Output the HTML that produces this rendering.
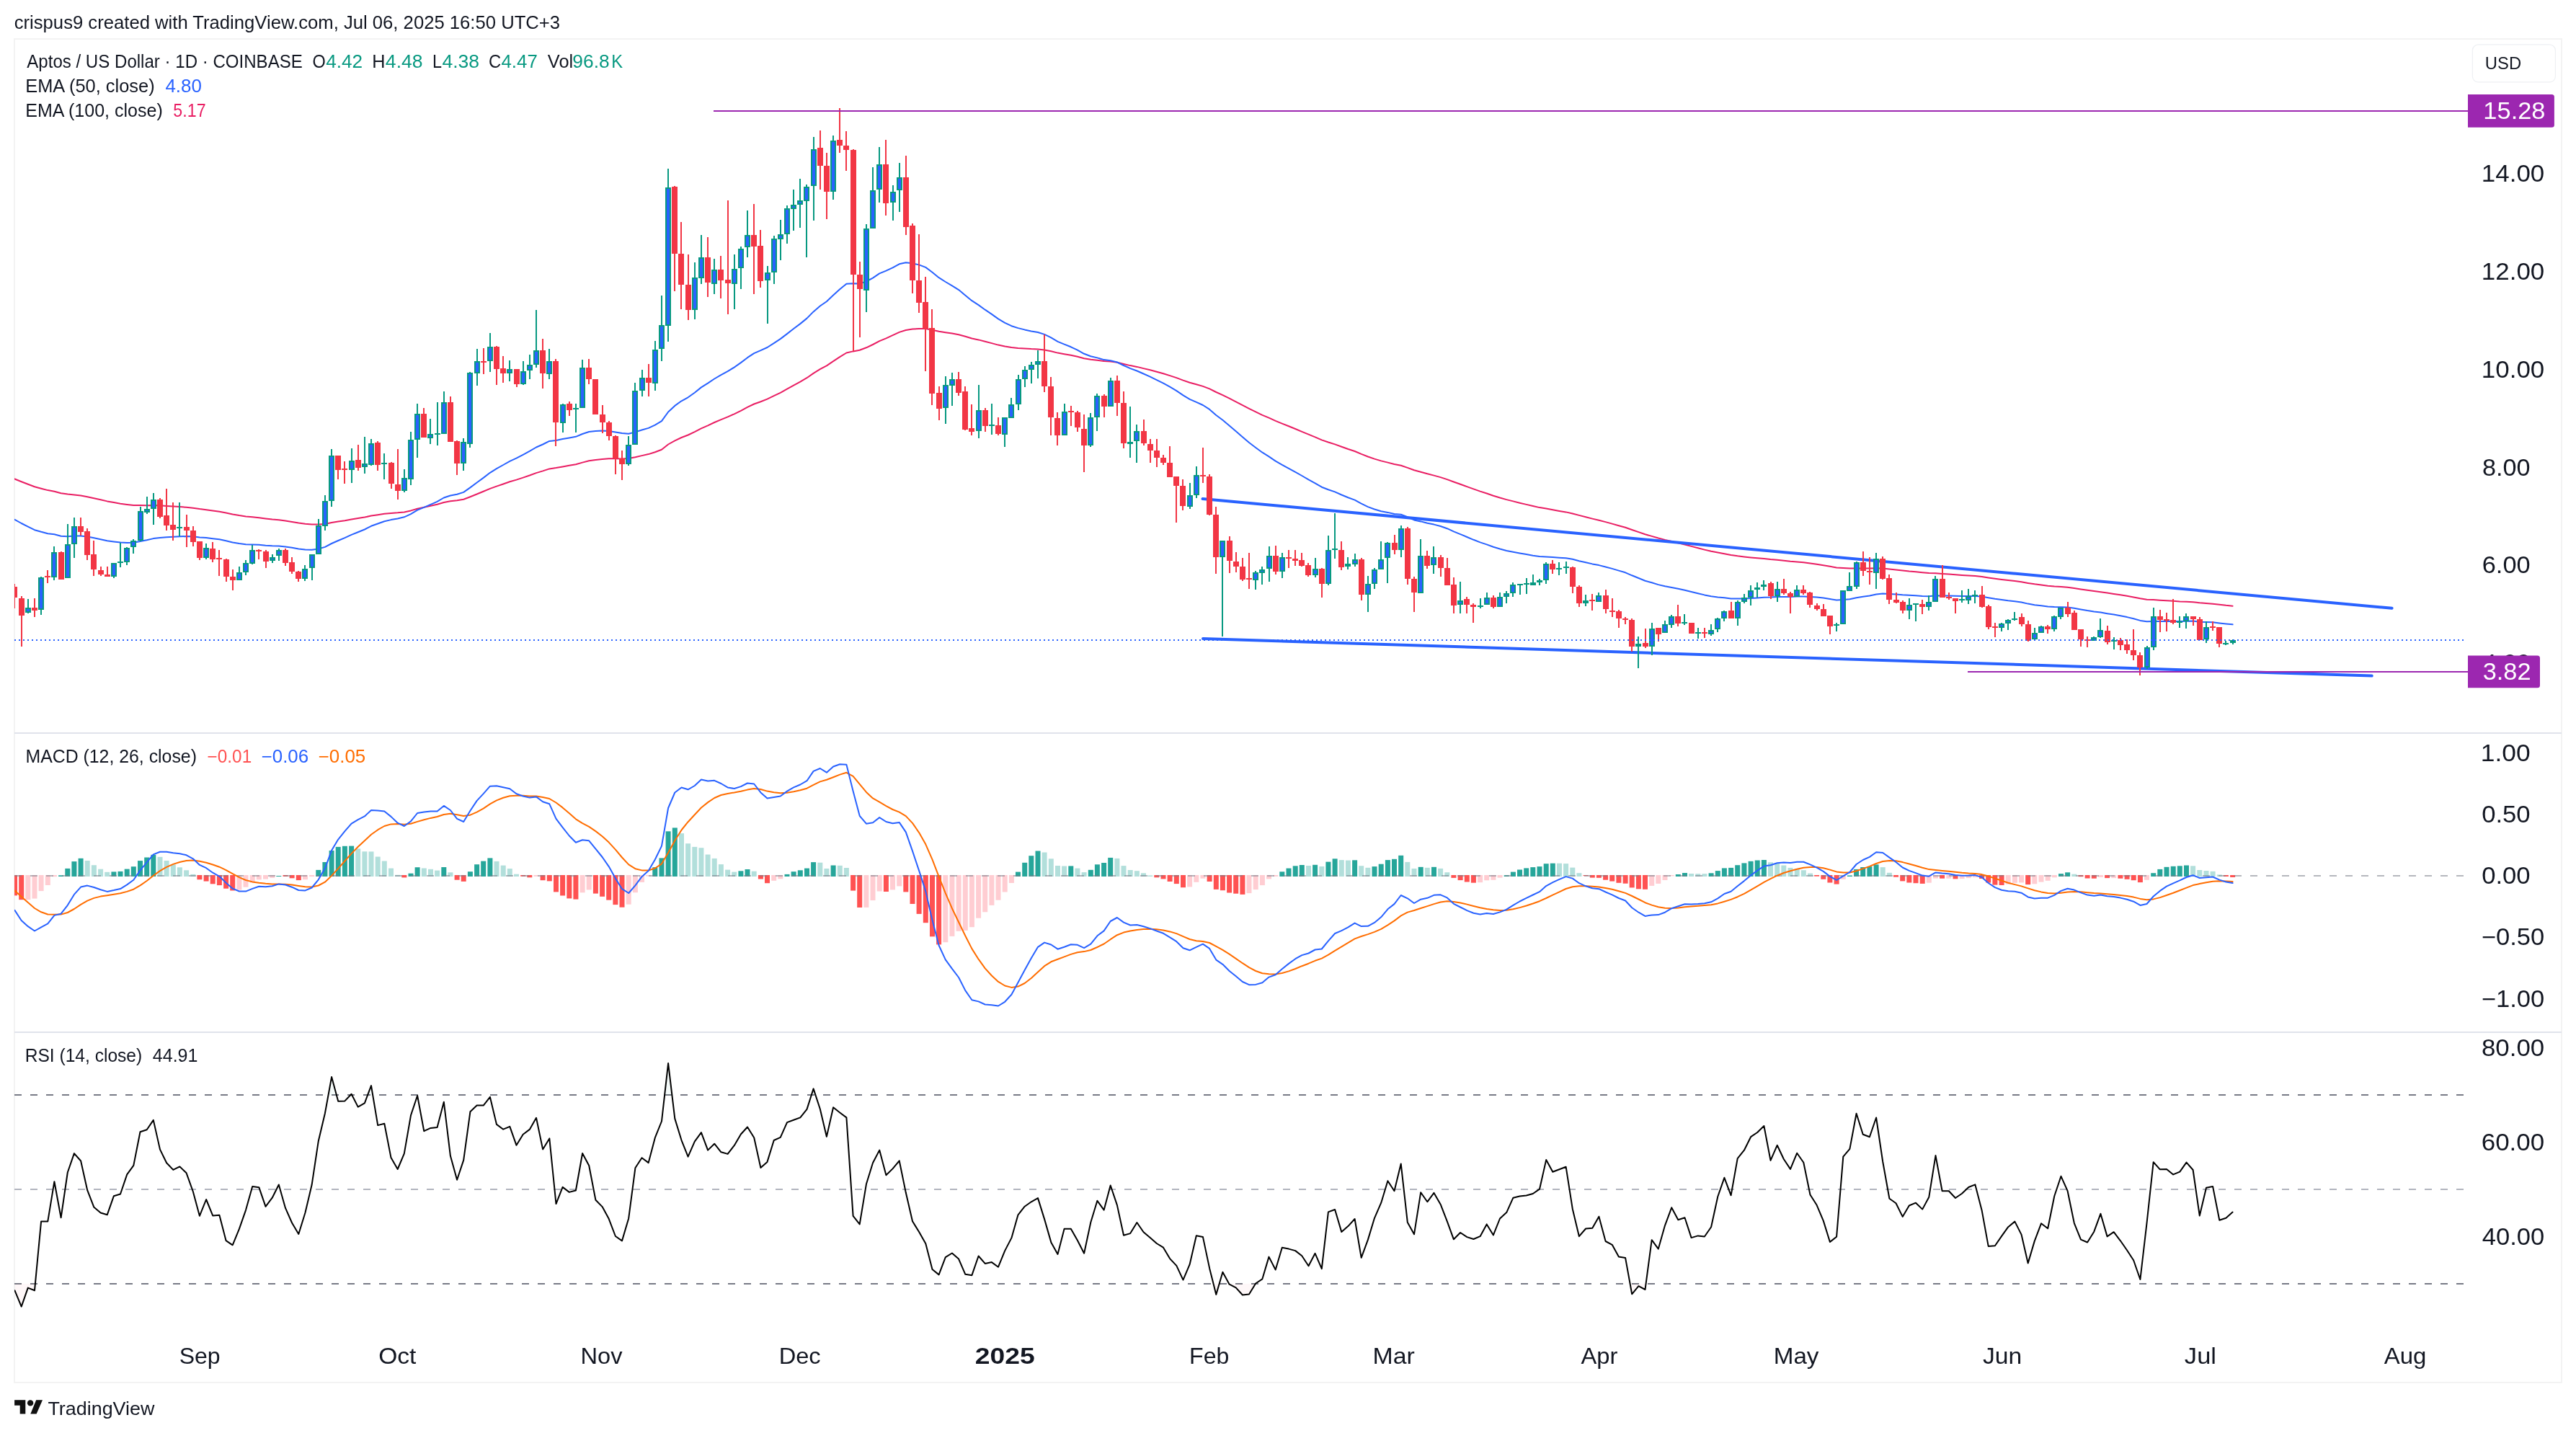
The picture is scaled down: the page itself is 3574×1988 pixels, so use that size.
<!DOCTYPE html>
<html><head><meta charset="utf-8"><style>
html,body{margin:0;padding:0;background:#fff;overflow:hidden;}
svg{display:block;font-family:"Liberation Sans", sans-serif;will-change:transform;}
</style></head><body>
<svg width="3574" height="1988" viewBox="0 0 3574 1988">
<rect x="0" y="0" width="3574" height="1988" fill="#ffffff"/>
<rect x="20" y="54" width="3534" height="1864" fill="none" stroke="#f3f3f3" stroke-width="2"/>
<line x1="20" y1="1017" x2="3554" y2="1017" stroke="#e0e3eb" stroke-width="2"/>
<line x1="20" y1="1432" x2="3554" y2="1432" stroke="#e0e3eb" stroke-width="2"/>
<text x="19.71" y="39.70" font-size="25" fill="#131722" textLength="757.41" lengthAdjust="spacingAndGlyphs">crispus9 created with TradingView.com, Jul 06, 2025 16:50 UTC+3</text>
<clipPath id="cp"><rect x="20" y="55" width="3400" height="960"/></clipPath>
<g clip-path="url(#cp)">
<polyline points="20.5,664.5 29.7,668.2 38.8,671.7 48.0,675.2 57.1,677.7 66.3,680.1 75.4,681.8 84.6,684.2 93.8,685.6 102.9,686.5 112.1,687.5 121.2,689.2 130.4,691.2 139.6,693.3 148.7,695.4 157.9,697.1 167.0,698.7 176.2,699.9 185.3,700.9 194.5,701.1 203.7,701.2 212.8,701.0 222.0,701.3 231.1,701.9 240.3,702.5 249.4,703.1 258.6,703.8 267.8,704.7 276.9,706.1 286.1,707.2 295.2,708.5 304.4,709.8 313.6,711.6 322.7,713.5 331.9,715.1 341.0,716.4 350.2,717.3 359.3,718.2 368.5,719.4 377.7,720.5 386.8,721.3 396.0,722.5 405.1,723.9 414.3,725.5 423.5,726.7 432.6,727.6 441.8,727.6 450.9,727.0 460.1,725.1 469.2,723.6 478.4,722.2 487.6,720.5 496.7,719.1 505.9,717.6 515.0,715.6 524.2,714.2 533.3,712.8 542.5,711.9 551.7,711.3 560.8,710.4 570.0,708.4 579.1,705.7 588.3,703.8 597.5,701.8 606.6,699.8 615.8,697.0 624.9,695.3 634.1,694.3 643.2,692.7 652.4,689.2 661.6,685.5 670.7,681.8 679.9,677.9 689.0,674.6 698.2,671.5 707.3,668.3 716.5,665.6 725.7,662.6 734.8,659.5 744.0,656.1 753.1,653.4 762.3,650.4 771.5,649.1 780.6,647.4 789.8,645.8 798.9,644.2 808.1,641.6 817.2,639.3 826.4,638.0 835.6,637.0 844.7,636.3 853.9,636.3 863.0,636.5 872.2,636.1 881.4,634.2 890.5,632.1 899.7,630.1 908.8,627.2 918.0,623.7 927.1,616.5 936.3,611.3 945.5,607.0 954.6,603.5 963.8,599.1 972.9,594.3 982.1,590.3 991.2,586.0 1000.4,582.1 1009.6,578.4 1018.7,574.3 1027.9,569.8 1037.0,564.9 1046.2,560.5 1055.4,557.2 1064.5,553.6 1073.7,549.2 1082.8,544.8 1092.0,539.7 1101.1,534.6 1110.3,529.6 1119.5,524.2 1128.6,517.9 1137.8,512.2 1146.9,507.3 1156.1,501.2 1165.2,495.2 1174.4,489.5 1183.6,487.4 1192.7,485.7 1201.9,482.3 1211.0,478.0 1220.2,473.1 1229.4,469.3 1238.5,465.2 1247.7,460.9 1256.8,458.0 1266.0,456.6 1275.1,455.9 1284.3,455.9 1293.5,457.7 1302.6,459.8 1311.8,461.3 1320.9,462.6 1330.1,464.2 1339.3,466.8 1348.4,469.5 1357.6,471.4 1366.7,473.8 1375.9,476.1 1385.0,478.6 1394.2,480.5 1403.4,482.1 1412.5,483.0 1421.7,483.6 1430.8,484.1 1440.0,484.4 1449.1,485.4 1458.3,487.3 1467.5,489.6 1476.6,491.2 1485.8,492.8 1494.9,494.8 1504.1,497.2 1513.3,498.8 1522.4,499.8 1531.6,501.1 1540.7,501.6 1549.9,502.8 1559.0,505.0 1568.2,507.1 1577.4,508.9 1586.5,511.1 1595.7,513.3 1604.8,515.7 1614.0,518.2 1623.1,521.1 1632.3,524.1 1641.5,527.6 1650.6,530.8 1659.8,533.3 1668.9,535.9 1678.1,539.4 1687.3,544.0 1696.4,548.1 1705.6,552.7 1714.7,557.3 1723.9,562.2 1733.0,566.9 1742.2,571.4 1751.4,575.8 1760.5,579.6 1769.7,583.9 1778.8,587.6 1788.0,591.3 1797.2,595.0 1806.3,598.8 1815.5,602.7 1824.6,606.4 1833.8,610.4 1842.9,613.5 1852.1,616.4 1861.3,619.8 1870.4,623.0 1879.6,626.0 1888.7,629.9 1897.9,633.5 1907.0,636.6 1916.2,639.4 1925.4,641.6 1934.5,644.0 1943.7,645.8 1952.8,648.9 1962.0,652.3 1971.2,654.7 1980.3,657.3 1989.5,659.6 1998.6,662.1 2007.8,665.1 2016.9,668.5 2026.1,671.8 2035.3,675.1 2044.4,678.4 2053.6,681.6 2062.7,684.5 2071.9,687.7 2081.0,690.5 2090.2,693.1 2099.4,695.4 2108.5,697.7 2117.7,699.9 2126.8,702.0 2136.0,704.1 2145.2,705.6 2154.3,707.3 2163.5,708.9 2172.6,710.4 2181.8,712.5 2190.9,714.9 2200.1,717.3 2209.3,719.6 2218.4,721.7 2227.6,724.1 2236.7,726.6 2245.9,729.2 2255.1,731.8 2264.2,735.0 2273.4,738.1 2282.5,741.3 2291.7,743.9 2300.8,746.5 2310.0,748.9 2319.2,751.0 2328.3,753.3 2337.5,755.5 2346.6,757.9 2355.8,760.3 2364.9,762.6 2374.1,764.8 2383.3,766.6 2392.4,768.3 2401.6,770.0 2410.7,771.3 2419.9,772.4 2429.1,773.4 2438.2,774.2 2447.4,774.9 2456.5,775.9 2465.7,776.7 2474.8,777.7 2484.0,778.7 2493.2,779.4 2502.3,780.3 2511.5,781.5 2520.6,782.7 2529.8,784.2 2538.9,785.8 2548.1,787.4 2557.3,788.1 2566.4,788.6 2575.6,788.4 2584.7,788.5 2593.9,788.6 2603.1,788.3 2612.2,788.6 2621.4,789.5 2630.5,790.4 2639.7,791.5 2648.8,792.5 2658.0,793.3 2667.2,794.3 2676.3,795.1 2685.5,795.3 2694.6,795.9 2703.8,796.6 2713.0,797.3 2722.1,798.0 2731.3,798.6 2740.4,799.1 2749.6,800.0 2758.7,801.4 2767.9,802.7 2777.1,804.0 2786.2,805.1 2795.4,806.1 2804.5,807.3 2813.7,808.9 2822.8,810.3 2832.0,811.5 2841.2,812.7 2850.3,813.5 2859.5,814.1 2868.6,814.8 2877.8,816.0 2887.0,817.4 2896.1,818.8 2905.3,820.1 2914.4,821.2 2923.6,822.6 2932.7,823.9 2941.9,825.3 2951.1,826.8 2960.2,828.4 2969.4,830.3 2978.5,831.7 2987.7,832.1 2996.8,832.7 3006.0,833.2 3015.2,833.8 3024.3,834.4 3033.5,834.8 3042.6,835.3 3051.8,836.3 3061.0,837.0 3070.1,837.7 3079.3,838.7 3088.4,839.8 3097.6,840.7" fill="none" stroke="#e91e63" stroke-width="2" stroke-linejoin="round" stroke-linecap="round"/>
<polyline points="20.5,720.8 29.7,726.0 38.8,730.7 48.0,735.2 57.1,737.8 66.3,740.2 75.4,741.3 84.6,743.7 93.8,744.2 102.9,743.6 112.1,743.4 121.2,744.4 130.4,746.2 139.6,748.2 148.7,750.3 157.9,751.5 167.0,752.6 176.2,752.9 185.3,752.8 194.5,751.0 203.7,749.3 212.8,747.1 222.0,745.9 231.1,745.2 240.3,744.8 249.4,744.3 258.6,744.0 267.8,744.3 276.9,745.4 286.1,746.0 295.2,747.2 304.4,748.3 313.6,750.3 322.7,752.5 331.9,754.1 341.0,755.2 350.2,755.5 359.3,755.8 368.5,756.7 377.7,757.3 386.8,757.6 396.0,758.5 405.1,759.8 414.3,761.5 423.5,762.6 432.6,762.8 441.8,761.5 450.9,758.9 460.1,754.0 469.2,750.0 478.4,746.1 487.6,741.9 496.7,738.2 505.9,734.5 515.0,729.8 524.2,726.5 533.3,723.2 542.5,721.1 551.7,719.5 560.8,717.3 570.0,713.1 579.1,707.7 588.3,703.8 597.5,699.8 606.6,695.9 615.8,690.5 624.9,687.5 634.1,685.7 643.2,682.9 652.4,676.4 661.6,669.5 670.7,662.9 679.9,655.8 689.0,650.2 698.2,645.0 707.3,639.8 716.5,635.6 725.7,630.8 734.8,625.9 744.0,620.5 753.1,616.5 762.3,611.9 771.5,610.9 780.6,609.0 789.8,607.4 798.9,605.8 808.1,602.0 817.2,599.0 826.4,598.1 835.6,597.6 844.7,597.9 853.9,599.4 863.0,601.1 872.2,601.8 881.4,599.4 890.5,596.5 899.7,593.9 908.8,589.7 918.0,584.2 927.1,571.5 936.3,562.9 945.5,556.3 954.6,551.3 963.8,544.8 972.9,537.4 982.1,531.7 991.2,525.5 1000.4,520.2 1009.6,515.2 1018.7,509.6 1027.9,503.1 1037.0,496.2 1046.2,490.2 1055.4,486.2 1064.5,482.0 1073.7,476.1 1082.8,470.1 1092.0,463.1 1101.1,456.0 1110.3,449.1 1119.5,441.6 1128.6,432.4 1137.8,424.5 1146.9,418.2 1156.1,409.5 1165.2,401.3 1174.4,393.7 1183.6,393.2 1192.7,393.5 1201.9,390.5 1211.0,385.6 1220.2,379.4 1229.4,375.6 1238.5,371.3 1247.7,366.3 1256.8,364.3 1266.0,365.3 1275.1,367.4 1284.3,370.9 1293.5,377.7 1302.6,385.2 1311.8,391.0 1320.9,396.3 1330.1,402.1 1339.3,409.7 1348.4,417.2 1357.6,423.1 1366.7,429.7 1375.9,435.9 1385.0,442.4 1394.2,447.8 1403.4,452.2 1412.5,455.1 1421.7,457.4 1430.8,459.4 1440.0,461.0 1449.1,463.9 1458.3,468.4 1467.5,473.8 1476.6,477.6 1485.8,481.3 1494.9,485.6 1504.1,490.8 1513.3,494.3 1522.4,496.4 1531.6,499.1 1540.7,500.2 1549.9,502.5 1559.0,507.0 1568.2,511.1 1577.4,514.5 1586.5,518.5 1595.7,522.7 1604.8,527.1 1614.0,531.6 1623.1,536.7 1632.3,542.1 1641.5,548.3 1650.6,553.8 1659.8,557.9 1668.9,562.0 1678.1,567.9 1687.3,576.0 1696.4,582.8 1705.6,590.5 1714.7,598.2 1723.9,606.2 1733.0,614.0 1742.2,621.0 1751.4,627.7 1760.5,633.3 1769.7,639.6 1778.8,644.8 1788.0,649.9 1797.2,654.9 1806.3,660.0 1815.5,665.4 1824.6,670.3 1833.8,675.7 1842.9,679.2 1852.1,682.4 1861.3,686.5 1870.4,690.2 1879.6,693.6 1888.7,698.7 1897.9,703.1 1907.0,706.5 1916.2,709.2 1925.4,710.9 1934.5,713.0 1943.7,713.8 1952.8,717.3 1962.0,721.4 1971.2,723.4 1980.3,725.8 1989.5,727.6 1998.6,730.0 2007.8,733.2 2016.9,737.4 2026.1,741.1 2035.3,745.0 2044.4,748.8 2053.6,752.4 2062.7,755.4 2071.9,758.8 2081.0,761.5 2090.2,764.0 2099.4,765.8 2108.5,767.5 2117.7,769.1 2126.8,770.7 2136.0,772.0 2145.2,772.4 2154.3,773.1 2163.5,773.7 2172.6,774.2 2181.8,775.8 2190.9,778.2 2200.1,780.3 2209.3,782.4 2218.4,784.1 2227.6,786.5 2236.7,788.9 2245.9,791.6 2255.1,794.3 2264.2,798.3 2273.4,802.0 2282.5,805.7 2291.7,808.3 2300.8,811.1 2310.0,813.2 2319.2,814.9 2328.3,816.8 2337.5,818.7 2346.6,821.0 2355.8,823.2 2364.9,825.4 2374.1,827.3 2383.3,828.5 2392.4,829.2 2401.6,830.4 2410.7,830.5 2419.9,830.4 2429.1,830.0 2438.2,829.4 2447.4,828.7 2456.5,828.6 2465.7,828.1 2474.8,827.9 2484.0,828.0 2493.2,827.6 2502.3,827.4 2511.5,827.9 2520.6,828.5 2529.8,829.6 2538.9,831.1 2548.1,832.5 2557.3,832.0 2566.4,831.2 2575.6,829.2 2584.7,827.8 2593.9,826.5 2603.1,824.5 2612.2,823.6 2621.4,823.9 2630.5,824.4 2639.7,825.3 2648.8,825.8 2658.0,826.3 2667.2,826.9 2676.3,827.2 2685.5,826.3 2694.6,826.4 2703.8,826.5 2713.0,826.8 2722.1,827.0 2731.3,827.0 2740.4,826.9 2749.6,827.5 2758.7,829.2 2767.9,830.8 2777.1,832.1 2786.2,833.3 2795.4,834.2 2804.5,835.5 2813.7,837.6 2822.8,839.2 2832.0,840.3 2841.2,841.6 2850.3,842.1 2859.5,842.2 2868.6,842.5 2877.8,843.8 2887.0,845.4 2896.1,847.1 2905.3,848.6 2914.4,849.6 2923.6,851.2 2932.7,852.6 2941.9,854.3 2951.1,856.1 2960.2,858.2 2969.4,860.9 2978.5,862.3 2987.7,862.1 2996.8,862.0 3006.0,861.9 3015.2,862.0 3024.3,862.0 3033.5,861.7 3042.6,861.6 3051.8,862.7 3061.0,862.9 3070.1,863.2 3079.3,864.4 3088.4,865.4 3097.6,866.3" fill="none" stroke="#2962ff" stroke-width="2" stroke-linejoin="round" stroke-linecap="round"/>
<line x1="1668.5" y1="692" x2="3318.6" y2="843.8" stroke="#2962ff" stroke-width="4" stroke-linecap="round"/>
<line x1="1669" y1="886" x2="3290.7" y2="937.6" stroke="#2962ff" stroke-width="4" stroke-linecap="round"/>
<rect x="19" y="810" width="2" height="34" fill="#f23645"/>
<rect x="16" y="814" width="8" height="15" fill="#f23645"/>
<rect x="29" y="827" width="2" height="70" fill="#f23645"/>
<rect x="26" y="830" width="8" height="24" fill="#f23645"/>
<rect x="38" y="831" width="2" height="20" fill="#089981"/>
<rect x="35" y="843" width="8" height="7" fill="#089981"/>
<rect x="37" y="845" width="4" height="3" fill="#2962ff"/>
<rect x="47" y="830" width="2" height="26" fill="#f23645"/>
<rect x="44" y="843" width="8" height="4" fill="#f23645"/>
<rect x="56" y="800" width="2" height="53" fill="#089981"/>
<rect x="53" y="801" width="8" height="45" fill="#089981"/>
<rect x="55" y="803" width="4" height="41" fill="#2962ff"/>
<rect x="65" y="791" width="2" height="18" fill="#f23645"/>
<rect x="62" y="799" width="8" height="2" fill="#f23645"/>
<rect x="74" y="758" width="2" height="47" fill="#089981"/>
<rect x="71" y="766" width="8" height="35" fill="#089981"/>
<rect x="73" y="768" width="4" height="31" fill="#2962ff"/>
<rect x="84" y="765" width="2" height="39" fill="#f23645"/>
<rect x="81" y="766" width="8" height="38" fill="#f23645"/>
<rect x="93" y="727" width="2" height="75" fill="#089981"/>
<rect x="90" y="755" width="8" height="47" fill="#089981"/>
<rect x="92" y="757" width="4" height="43" fill="#2962ff"/>
<rect x="102" y="718" width="2" height="56" fill="#089981"/>
<rect x="99" y="730" width="8" height="25" fill="#089981"/>
<rect x="101" y="732" width="4" height="21" fill="#2962ff"/>
<rect x="111" y="718" width="2" height="25" fill="#f23645"/>
<rect x="108" y="730" width="8" height="8" fill="#f23645"/>
<rect x="120" y="733" width="2" height="44" fill="#f23645"/>
<rect x="117" y="737" width="8" height="33" fill="#f23645"/>
<rect x="129" y="750" width="2" height="49" fill="#f23645"/>
<rect x="126" y="769" width="8" height="21" fill="#f23645"/>
<rect x="139" y="786" width="2" height="13" fill="#f23645"/>
<rect x="136" y="791" width="8" height="6" fill="#f23645"/>
<rect x="148" y="786" width="2" height="14" fill="#f23645"/>
<rect x="145" y="797" width="8" height="3" fill="#f23645"/>
<rect x="157" y="781" width="2" height="21" fill="#089981"/>
<rect x="154" y="781" width="8" height="19" fill="#089981"/>
<rect x="156" y="783" width="4" height="15" fill="#2962ff"/>
<rect x="166" y="753" width="2" height="34" fill="#089981"/>
<rect x="163" y="779" width="8" height="2" fill="#089981"/>
<rect x="175" y="759" width="2" height="25" fill="#089981"/>
<rect x="172" y="760" width="8" height="20" fill="#089981"/>
<rect x="174" y="762" width="4" height="16" fill="#2962ff"/>
<rect x="184" y="748" width="2" height="20" fill="#089981"/>
<rect x="181" y="750" width="8" height="9" fill="#089981"/>
<rect x="183" y="752" width="4" height="5" fill="#2962ff"/>
<rect x="194" y="703" width="2" height="48" fill="#089981"/>
<rect x="191" y="709" width="8" height="41" fill="#089981"/>
<rect x="193" y="711" width="4" height="37" fill="#2962ff"/>
<rect x="203" y="689" width="2" height="24" fill="#089981"/>
<rect x="200" y="706" width="8" height="5" fill="#089981"/>
<rect x="202" y="708" width="4" height="1" fill="#2962ff"/>
<rect x="212" y="684" width="2" height="44" fill="#089981"/>
<rect x="209" y="693" width="8" height="13" fill="#089981"/>
<rect x="211" y="695" width="4" height="9" fill="#2962ff"/>
<rect x="221" y="691" width="2" height="28" fill="#f23645"/>
<rect x="218" y="693" width="8" height="24" fill="#f23645"/>
<rect x="230" y="678" width="2" height="58" fill="#f23645"/>
<rect x="227" y="715" width="8" height="14" fill="#f23645"/>
<rect x="239" y="697" width="2" height="53" fill="#f23645"/>
<rect x="236" y="728" width="8" height="7" fill="#f23645"/>
<rect x="248" y="697" width="2" height="47" fill="#089981"/>
<rect x="245" y="731" width="8" height="2" fill="#089981"/>
<rect x="258" y="714" width="2" height="45" fill="#f23645"/>
<rect x="255" y="731" width="8" height="5" fill="#f23645"/>
<rect x="267" y="730" width="2" height="28" fill="#f23645"/>
<rect x="264" y="736" width="8" height="16" fill="#f23645"/>
<rect x="276" y="751" width="2" height="26" fill="#f23645"/>
<rect x="273" y="751" width="8" height="23" fill="#f23645"/>
<rect x="285" y="754" width="2" height="22" fill="#089981"/>
<rect x="282" y="760" width="8" height="14" fill="#089981"/>
<rect x="284" y="762" width="4" height="10" fill="#2962ff"/>
<rect x="294" y="752" width="2" height="28" fill="#f23645"/>
<rect x="291" y="761" width="8" height="15" fill="#f23645"/>
<rect x="303" y="763" width="2" height="36" fill="#f23645"/>
<rect x="300" y="774" width="8" height="2" fill="#f23645"/>
<rect x="313" y="775" width="2" height="32" fill="#f23645"/>
<rect x="310" y="776" width="8" height="24" fill="#f23645"/>
<rect x="322" y="790" width="2" height="29" fill="#f23645"/>
<rect x="319" y="800" width="8" height="5" fill="#f23645"/>
<rect x="331" y="786" width="2" height="19" fill="#089981"/>
<rect x="328" y="794" width="8" height="11" fill="#089981"/>
<rect x="330" y="796" width="4" height="7" fill="#2962ff"/>
<rect x="340" y="777" width="2" height="21" fill="#089981"/>
<rect x="337" y="781" width="8" height="13" fill="#089981"/>
<rect x="339" y="783" width="4" height="9" fill="#2962ff"/>
<rect x="349" y="756" width="2" height="27" fill="#089981"/>
<rect x="346" y="763" width="8" height="19" fill="#089981"/>
<rect x="348" y="765" width="4" height="15" fill="#2962ff"/>
<rect x="358" y="762" width="2" height="14" fill="#f23645"/>
<rect x="355" y="763" width="8" height="2" fill="#f23645"/>
<rect x="368" y="763" width="2" height="25" fill="#f23645"/>
<rect x="365" y="765" width="8" height="14" fill="#f23645"/>
<rect x="377" y="769" width="2" height="12" fill="#089981"/>
<rect x="374" y="773" width="8" height="5" fill="#089981"/>
<rect x="376" y="775" width="4" height="1" fill="#2962ff"/>
<rect x="386" y="761" width="2" height="17" fill="#089981"/>
<rect x="383" y="763" width="8" height="8" fill="#089981"/>
<rect x="385" y="765" width="4" height="4" fill="#2962ff"/>
<rect x="395" y="761" width="2" height="24" fill="#f23645"/>
<rect x="392" y="763" width="8" height="18" fill="#f23645"/>
<rect x="404" y="773" width="2" height="23" fill="#f23645"/>
<rect x="401" y="780" width="8" height="13" fill="#f23645"/>
<rect x="413" y="792" width="2" height="15" fill="#f23645"/>
<rect x="410" y="793" width="8" height="10" fill="#f23645"/>
<rect x="422" y="784" width="2" height="22" fill="#089981"/>
<rect x="419" y="789" width="8" height="14" fill="#089981"/>
<rect x="421" y="791" width="4" height="10" fill="#2962ff"/>
<rect x="432" y="769" width="2" height="36" fill="#089981"/>
<rect x="429" y="769" width="8" height="19" fill="#089981"/>
<rect x="431" y="771" width="4" height="15" fill="#2962ff"/>
<rect x="441" y="720" width="2" height="49" fill="#089981"/>
<rect x="438" y="729" width="8" height="40" fill="#089981"/>
<rect x="440" y="731" width="4" height="36" fill="#2962ff"/>
<rect x="450" y="687" width="2" height="49" fill="#089981"/>
<rect x="447" y="695" width="8" height="35" fill="#089981"/>
<rect x="449" y="697" width="4" height="31" fill="#2962ff"/>
<rect x="459" y="623" width="2" height="80" fill="#089981"/>
<rect x="456" y="632" width="8" height="63" fill="#089981"/>
<rect x="458" y="634" width="4" height="59" fill="#2962ff"/>
<rect x="468" y="632" width="2" height="33" fill="#f23645"/>
<rect x="465" y="632" width="8" height="20" fill="#f23645"/>
<rect x="477" y="640" width="2" height="31" fill="#f23645"/>
<rect x="474" y="650" width="8" height="2" fill="#f23645"/>
<rect x="487" y="622" width="2" height="48" fill="#089981"/>
<rect x="484" y="639" width="8" height="13" fill="#089981"/>
<rect x="486" y="641" width="4" height="9" fill="#2962ff"/>
<rect x="496" y="617" width="2" height="36" fill="#f23645"/>
<rect x="493" y="638" width="8" height="11" fill="#f23645"/>
<rect x="505" y="606" width="2" height="51" fill="#089981"/>
<rect x="502" y="643" width="8" height="5" fill="#089981"/>
<rect x="504" y="645" width="4" height="1" fill="#2962ff"/>
<rect x="514" y="609" width="2" height="37" fill="#089981"/>
<rect x="511" y="615" width="8" height="30" fill="#089981"/>
<rect x="513" y="617" width="4" height="26" fill="#2962ff"/>
<rect x="523" y="612" width="2" height="41" fill="#f23645"/>
<rect x="520" y="614" width="8" height="31" fill="#f23645"/>
<rect x="532" y="629" width="2" height="36" fill="#089981"/>
<rect x="529" y="642" width="8" height="2" fill="#089981"/>
<rect x="542" y="641" width="2" height="37" fill="#f23645"/>
<rect x="539" y="642" width="8" height="29" fill="#f23645"/>
<rect x="551" y="623" width="2" height="70" fill="#f23645"/>
<rect x="548" y="672" width="8" height="9" fill="#f23645"/>
<rect x="560" y="651" width="2" height="32" fill="#089981"/>
<rect x="557" y="663" width="8" height="18" fill="#089981"/>
<rect x="559" y="665" width="4" height="14" fill="#2962ff"/>
<rect x="569" y="599" width="2" height="74" fill="#089981"/>
<rect x="566" y="610" width="8" height="55" fill="#089981"/>
<rect x="568" y="612" width="4" height="51" fill="#2962ff"/>
<rect x="578" y="560" width="2" height="75" fill="#089981"/>
<rect x="575" y="574" width="8" height="36" fill="#089981"/>
<rect x="577" y="576" width="4" height="32" fill="#2962ff"/>
<rect x="587" y="566" width="2" height="41" fill="#f23645"/>
<rect x="584" y="574" width="8" height="33" fill="#f23645"/>
<rect x="596" y="581" width="2" height="35" fill="#089981"/>
<rect x="593" y="602" width="8" height="6" fill="#089981"/>
<rect x="595" y="604" width="4" height="2" fill="#2962ff"/>
<rect x="606" y="558" width="2" height="60" fill="#089981"/>
<rect x="603" y="601" width="8" height="2" fill="#089981"/>
<rect x="615" y="543" width="2" height="59" fill="#089981"/>
<rect x="612" y="558" width="8" height="44" fill="#089981"/>
<rect x="614" y="560" width="4" height="40" fill="#2962ff"/>
<rect x="624" y="550" width="2" height="63" fill="#f23645"/>
<rect x="621" y="558" width="8" height="55" fill="#f23645"/>
<rect x="633" y="611" width="2" height="48" fill="#f23645"/>
<rect x="630" y="612" width="8" height="31" fill="#f23645"/>
<rect x="642" y="608" width="2" height="45" fill="#089981"/>
<rect x="639" y="613" width="8" height="30" fill="#089981"/>
<rect x="641" y="615" width="4" height="26" fill="#2962ff"/>
<rect x="651" y="516" width="2" height="105" fill="#089981"/>
<rect x="648" y="517" width="8" height="99" fill="#089981"/>
<rect x="650" y="519" width="4" height="95" fill="#2962ff"/>
<rect x="661" y="484" width="2" height="51" fill="#089981"/>
<rect x="658" y="501" width="8" height="17" fill="#089981"/>
<rect x="660" y="503" width="4" height="13" fill="#2962ff"/>
<rect x="670" y="483" width="2" height="36" fill="#f23645"/>
<rect x="667" y="501" width="8" height="2" fill="#f23645"/>
<rect x="679" y="462" width="2" height="54" fill="#089981"/>
<rect x="676" y="481" width="8" height="20" fill="#089981"/>
<rect x="678" y="483" width="4" height="16" fill="#2962ff"/>
<rect x="688" y="480" width="2" height="54" fill="#f23645"/>
<rect x="685" y="481" width="8" height="31" fill="#f23645"/>
<rect x="697" y="494" width="2" height="37" fill="#f23645"/>
<rect x="694" y="511" width="8" height="7" fill="#f23645"/>
<rect x="706" y="500" width="2" height="29" fill="#089981"/>
<rect x="703" y="512" width="8" height="6" fill="#089981"/>
<rect x="705" y="514" width="4" height="2" fill="#2962ff"/>
<rect x="716" y="512" width="2" height="25" fill="#f23645"/>
<rect x="713" y="512" width="8" height="21" fill="#f23645"/>
<rect x="725" y="501" width="2" height="33" fill="#089981"/>
<rect x="722" y="515" width="8" height="18" fill="#089981"/>
<rect x="724" y="517" width="4" height="14" fill="#2962ff"/>
<rect x="734" y="492" width="2" height="34" fill="#089981"/>
<rect x="731" y="506" width="8" height="8" fill="#089981"/>
<rect x="733" y="508" width="4" height="4" fill="#2962ff"/>
<rect x="743" y="430" width="2" height="80" fill="#089981"/>
<rect x="740" y="486" width="8" height="20" fill="#089981"/>
<rect x="742" y="488" width="4" height="16" fill="#2962ff"/>
<rect x="752" y="470" width="2" height="69" fill="#f23645"/>
<rect x="749" y="486" width="8" height="32" fill="#f23645"/>
<rect x="761" y="484" width="2" height="42" fill="#089981"/>
<rect x="758" y="501" width="8" height="18" fill="#089981"/>
<rect x="760" y="503" width="4" height="14" fill="#2962ff"/>
<rect x="770" y="498" width="2" height="121" fill="#f23645"/>
<rect x="767" y="501" width="8" height="85" fill="#f23645"/>
<rect x="780" y="560" width="2" height="40" fill="#089981"/>
<rect x="777" y="561" width="8" height="26" fill="#089981"/>
<rect x="779" y="563" width="4" height="22" fill="#2962ff"/>
<rect x="789" y="557" width="2" height="20" fill="#f23645"/>
<rect x="786" y="560" width="8" height="9" fill="#f23645"/>
<rect x="798" y="560" width="2" height="40" fill="#089981"/>
<rect x="795" y="566" width="8" height="2" fill="#089981"/>
<rect x="807" y="499" width="2" height="67" fill="#089981"/>
<rect x="804" y="510" width="8" height="56" fill="#089981"/>
<rect x="806" y="512" width="4" height="52" fill="#2962ff"/>
<rect x="816" y="498" width="2" height="35" fill="#f23645"/>
<rect x="813" y="510" width="8" height="16" fill="#f23645"/>
<rect x="825" y="526" width="2" height="49" fill="#f23645"/>
<rect x="822" y="526" width="8" height="49" fill="#f23645"/>
<rect x="835" y="562" width="2" height="39" fill="#f23645"/>
<rect x="832" y="575" width="8" height="11" fill="#f23645"/>
<rect x="844" y="584" width="2" height="27" fill="#f23645"/>
<rect x="841" y="586" width="8" height="19" fill="#f23645"/>
<rect x="853" y="604" width="2" height="54" fill="#f23645"/>
<rect x="850" y="605" width="8" height="31" fill="#f23645"/>
<rect x="862" y="625" width="2" height="41" fill="#f23645"/>
<rect x="859" y="636" width="8" height="8" fill="#f23645"/>
<rect x="871" y="605" width="2" height="41" fill="#089981"/>
<rect x="868" y="617" width="8" height="27" fill="#089981"/>
<rect x="870" y="619" width="4" height="23" fill="#2962ff"/>
<rect x="880" y="531" width="2" height="86" fill="#089981"/>
<rect x="877" y="542" width="8" height="75" fill="#089981"/>
<rect x="879" y="544" width="4" height="71" fill="#2962ff"/>
<rect x="890" y="513" width="2" height="37" fill="#089981"/>
<rect x="887" y="524" width="8" height="18" fill="#089981"/>
<rect x="889" y="526" width="4" height="14" fill="#2962ff"/>
<rect x="899" y="505" width="2" height="45" fill="#f23645"/>
<rect x="896" y="524" width="8" height="7" fill="#f23645"/>
<rect x="908" y="473" width="2" height="69" fill="#089981"/>
<rect x="905" y="485" width="8" height="47" fill="#089981"/>
<rect x="907" y="487" width="4" height="43" fill="#2962ff"/>
<rect x="917" y="410" width="2" height="91" fill="#089981"/>
<rect x="914" y="451" width="8" height="33" fill="#089981"/>
<rect x="916" y="453" width="4" height="29" fill="#2962ff"/>
<rect x="926" y="234" width="2" height="240" fill="#089981"/>
<rect x="923" y="260" width="8" height="192" fill="#089981"/>
<rect x="925" y="262" width="4" height="188" fill="#2962ff"/>
<rect x="935" y="258" width="2" height="146" fill="#f23645"/>
<rect x="932" y="259" width="8" height="93" fill="#f23645"/>
<rect x="944" y="308" width="2" height="121" fill="#f23645"/>
<rect x="941" y="352" width="8" height="43" fill="#f23645"/>
<rect x="954" y="353" width="2" height="91" fill="#f23645"/>
<rect x="951" y="395" width="8" height="35" fill="#f23645"/>
<rect x="963" y="364" width="2" height="79" fill="#089981"/>
<rect x="960" y="385" width="8" height="45" fill="#089981"/>
<rect x="962" y="387" width="4" height="41" fill="#2962ff"/>
<rect x="972" y="326" width="2" height="68" fill="#089981"/>
<rect x="969" y="357" width="8" height="29" fill="#089981"/>
<rect x="971" y="359" width="4" height="25" fill="#2962ff"/>
<rect x="981" y="329" width="2" height="83" fill="#f23645"/>
<rect x="978" y="357" width="8" height="35" fill="#f23645"/>
<rect x="990" y="359" width="2" height="49" fill="#089981"/>
<rect x="987" y="374" width="8" height="20" fill="#089981"/>
<rect x="989" y="376" width="4" height="16" fill="#2962ff"/>
<rect x="999" y="355" width="2" height="59" fill="#f23645"/>
<rect x="996" y="374" width="8" height="15" fill="#f23645"/>
<rect x="1009" y="278" width="2" height="158" fill="#f23645"/>
<rect x="1006" y="388" width="8" height="5" fill="#f23645"/>
<rect x="1018" y="353" width="2" height="76" fill="#089981"/>
<rect x="1015" y="373" width="8" height="21" fill="#089981"/>
<rect x="1017" y="375" width="4" height="17" fill="#2962ff"/>
<rect x="1027" y="342" width="2" height="59" fill="#089981"/>
<rect x="1024" y="345" width="8" height="27" fill="#089981"/>
<rect x="1026" y="347" width="4" height="23" fill="#2962ff"/>
<rect x="1036" y="292" width="2" height="65" fill="#089981"/>
<rect x="1033" y="326" width="8" height="17" fill="#089981"/>
<rect x="1035" y="328" width="4" height="13" fill="#2962ff"/>
<rect x="1045" y="283" width="2" height="125" fill="#f23645"/>
<rect x="1042" y="326" width="8" height="16" fill="#f23645"/>
<rect x="1054" y="319" width="2" height="80" fill="#f23645"/>
<rect x="1051" y="341" width="8" height="49" fill="#f23645"/>
<rect x="1064" y="369" width="2" height="80" fill="#089981"/>
<rect x="1061" y="378" width="8" height="11" fill="#089981"/>
<rect x="1063" y="380" width="4" height="7" fill="#2962ff"/>
<rect x="1073" y="327" width="2" height="67" fill="#089981"/>
<rect x="1070" y="331" width="8" height="47" fill="#089981"/>
<rect x="1072" y="333" width="4" height="43" fill="#2962ff"/>
<rect x="1082" y="305" width="2" height="56" fill="#089981"/>
<rect x="1079" y="325" width="8" height="7" fill="#089981"/>
<rect x="1081" y="327" width="4" height="3" fill="#2962ff"/>
<rect x="1091" y="285" width="2" height="53" fill="#089981"/>
<rect x="1088" y="289" width="8" height="36" fill="#089981"/>
<rect x="1090" y="291" width="4" height="32" fill="#2962ff"/>
<rect x="1100" y="263" width="2" height="57" fill="#089981"/>
<rect x="1097" y="284" width="8" height="6" fill="#089981"/>
<rect x="1099" y="286" width="4" height="2" fill="#2962ff"/>
<rect x="1109" y="248" width="2" height="68" fill="#089981"/>
<rect x="1106" y="278" width="8" height="6" fill="#089981"/>
<rect x="1108" y="280" width="4" height="2" fill="#2962ff"/>
<rect x="1118" y="256" width="2" height="101" fill="#089981"/>
<rect x="1115" y="259" width="8" height="20" fill="#089981"/>
<rect x="1117" y="261" width="4" height="16" fill="#2962ff"/>
<rect x="1128" y="190" width="2" height="116" fill="#089981"/>
<rect x="1125" y="207" width="8" height="51" fill="#089981"/>
<rect x="1127" y="209" width="4" height="47" fill="#2962ff"/>
<rect x="1137" y="181" width="2" height="82" fill="#f23645"/>
<rect x="1134" y="205" width="8" height="25" fill="#f23645"/>
<rect x="1146" y="212" width="2" height="92" fill="#f23645"/>
<rect x="1143" y="230" width="8" height="36" fill="#f23645"/>
<rect x="1155" y="188" width="2" height="89" fill="#089981"/>
<rect x="1152" y="195" width="8" height="71" fill="#089981"/>
<rect x="1154" y="197" width="4" height="67" fill="#2962ff"/>
<rect x="1164" y="150" width="2" height="62" fill="#f23645"/>
<rect x="1161" y="194" width="8" height="8" fill="#f23645"/>
<rect x="1173" y="182" width="2" height="55" fill="#f23645"/>
<rect x="1170" y="202" width="8" height="6" fill="#f23645"/>
<rect x="1183" y="207" width="2" height="280" fill="#f23645"/>
<rect x="1180" y="208" width="8" height="173" fill="#f23645"/>
<rect x="1192" y="363" width="2" height="105" fill="#f23645"/>
<rect x="1189" y="381" width="8" height="20" fill="#f23645"/>
<rect x="1201" y="311" width="2" height="122" fill="#089981"/>
<rect x="1198" y="317" width="8" height="86" fill="#089981"/>
<rect x="1200" y="319" width="4" height="82" fill="#2962ff"/>
<rect x="1210" y="232" width="2" height="85" fill="#089981"/>
<rect x="1207" y="264" width="8" height="53" fill="#089981"/>
<rect x="1209" y="266" width="4" height="49" fill="#2962ff"/>
<rect x="1219" y="204" width="2" height="77" fill="#089981"/>
<rect x="1216" y="228" width="8" height="35" fill="#089981"/>
<rect x="1218" y="230" width="4" height="31" fill="#2962ff"/>
<rect x="1228" y="194" width="2" height="105" fill="#f23645"/>
<rect x="1225" y="228" width="8" height="54" fill="#f23645"/>
<rect x="1238" y="257" width="2" height="49" fill="#089981"/>
<rect x="1235" y="266" width="8" height="15" fill="#089981"/>
<rect x="1237" y="268" width="4" height="11" fill="#2962ff"/>
<rect x="1247" y="226" width="2" height="68" fill="#089981"/>
<rect x="1244" y="246" width="8" height="18" fill="#089981"/>
<rect x="1246" y="248" width="4" height="14" fill="#2962ff"/>
<rect x="1256" y="216" width="2" height="110" fill="#f23645"/>
<rect x="1253" y="246" width="8" height="69" fill="#f23645"/>
<rect x="1265" y="310" width="2" height="97" fill="#f23645"/>
<rect x="1262" y="313" width="8" height="76" fill="#f23645"/>
<rect x="1274" y="325" width="2" height="109" fill="#f23645"/>
<rect x="1271" y="389" width="8" height="31" fill="#f23645"/>
<rect x="1283" y="384" width="2" height="131" fill="#f23645"/>
<rect x="1280" y="419" width="8" height="37" fill="#f23645"/>
<rect x="1292" y="429" width="2" height="133" fill="#f23645"/>
<rect x="1289" y="455" width="8" height="91" fill="#f23645"/>
<rect x="1302" y="536" width="2" height="47" fill="#f23645"/>
<rect x="1299" y="545" width="8" height="22" fill="#f23645"/>
<rect x="1311" y="522" width="2" height="66" fill="#089981"/>
<rect x="1308" y="534" width="8" height="32" fill="#089981"/>
<rect x="1310" y="536" width="4" height="28" fill="#2962ff"/>
<rect x="1320" y="517" width="2" height="46" fill="#089981"/>
<rect x="1317" y="526" width="8" height="9" fill="#089981"/>
<rect x="1319" y="528" width="4" height="5" fill="#2962ff"/>
<rect x="1329" y="516" width="2" height="33" fill="#f23645"/>
<rect x="1326" y="526" width="8" height="19" fill="#f23645"/>
<rect x="1338" y="536" width="2" height="61" fill="#f23645"/>
<rect x="1335" y="543" width="8" height="53" fill="#f23645"/>
<rect x="1347" y="561" width="2" height="43" fill="#f23645"/>
<rect x="1344" y="594" width="8" height="5" fill="#f23645"/>
<rect x="1357" y="534" width="2" height="74" fill="#089981"/>
<rect x="1354" y="569" width="8" height="29" fill="#089981"/>
<rect x="1356" y="571" width="4" height="25" fill="#2962ff"/>
<rect x="1366" y="566" width="2" height="33" fill="#f23645"/>
<rect x="1363" y="569" width="8" height="22" fill="#f23645"/>
<rect x="1375" y="560" width="2" height="43" fill="#089981"/>
<rect x="1372" y="589" width="8" height="2" fill="#089981"/>
<rect x="1384" y="579" width="2" height="25" fill="#f23645"/>
<rect x="1381" y="590" width="8" height="12" fill="#f23645"/>
<rect x="1393" y="579" width="2" height="41" fill="#089981"/>
<rect x="1390" y="579" width="8" height="24" fill="#089981"/>
<rect x="1392" y="581" width="4" height="20" fill="#2962ff"/>
<rect x="1402" y="552" width="2" height="28" fill="#089981"/>
<rect x="1399" y="561" width="8" height="19" fill="#089981"/>
<rect x="1401" y="563" width="4" height="15" fill="#2962ff"/>
<rect x="1412" y="520" width="2" height="49" fill="#089981"/>
<rect x="1409" y="526" width="8" height="35" fill="#089981"/>
<rect x="1411" y="528" width="4" height="31" fill="#2962ff"/>
<rect x="1421" y="508" width="2" height="29" fill="#089981"/>
<rect x="1418" y="513" width="8" height="13" fill="#089981"/>
<rect x="1420" y="515" width="4" height="9" fill="#2962ff"/>
<rect x="1430" y="502" width="2" height="30" fill="#089981"/>
<rect x="1427" y="506" width="8" height="7" fill="#089981"/>
<rect x="1429" y="508" width="4" height="3" fill="#2962ff"/>
<rect x="1439" y="486" width="2" height="39" fill="#089981"/>
<rect x="1436" y="501" width="8" height="5" fill="#089981"/>
<rect x="1438" y="503" width="4" height="1" fill="#2962ff"/>
<rect x="1448" y="464" width="2" height="80" fill="#f23645"/>
<rect x="1445" y="501" width="8" height="35" fill="#f23645"/>
<rect x="1457" y="523" width="2" height="81" fill="#f23645"/>
<rect x="1454" y="536" width="8" height="43" fill="#f23645"/>
<rect x="1466" y="572" width="2" height="46" fill="#f23645"/>
<rect x="1463" y="580" width="8" height="24" fill="#f23645"/>
<rect x="1476" y="560" width="2" height="44" fill="#089981"/>
<rect x="1473" y="571" width="8" height="33" fill="#089981"/>
<rect x="1475" y="573" width="4" height="29" fill="#2962ff"/>
<rect x="1485" y="563" width="2" height="28" fill="#f23645"/>
<rect x="1482" y="570" width="8" height="2" fill="#f23645"/>
<rect x="1494" y="570" width="2" height="29" fill="#f23645"/>
<rect x="1491" y="572" width="8" height="21" fill="#f23645"/>
<rect x="1503" y="575" width="2" height="80" fill="#f23645"/>
<rect x="1500" y="595" width="8" height="23" fill="#f23645"/>
<rect x="1512" y="573" width="2" height="47" fill="#089981"/>
<rect x="1509" y="579" width="8" height="39" fill="#089981"/>
<rect x="1511" y="581" width="4" height="35" fill="#2962ff"/>
<rect x="1521" y="546" width="2" height="52" fill="#089981"/>
<rect x="1518" y="549" width="8" height="30" fill="#089981"/>
<rect x="1520" y="551" width="4" height="26" fill="#2962ff"/>
<rect x="1531" y="547" width="2" height="32" fill="#f23645"/>
<rect x="1528" y="549" width="8" height="15" fill="#f23645"/>
<rect x="1540" y="524" width="2" height="40" fill="#089981"/>
<rect x="1537" y="528" width="8" height="36" fill="#089981"/>
<rect x="1539" y="530" width="4" height="32" fill="#2962ff"/>
<rect x="1549" y="521" width="2" height="56" fill="#f23645"/>
<rect x="1546" y="528" width="8" height="31" fill="#f23645"/>
<rect x="1558" y="543" width="2" height="79" fill="#f23645"/>
<rect x="1555" y="559" width="8" height="56" fill="#f23645"/>
<rect x="1567" y="564" width="2" height="71" fill="#089981"/>
<rect x="1564" y="613" width="8" height="3" fill="#089981"/>
<rect x="1576" y="589" width="2" height="53" fill="#089981"/>
<rect x="1573" y="598" width="8" height="14" fill="#089981"/>
<rect x="1575" y="600" width="4" height="10" fill="#2962ff"/>
<rect x="1586" y="582" width="2" height="36" fill="#f23645"/>
<rect x="1583" y="598" width="8" height="17" fill="#f23645"/>
<rect x="1595" y="609" width="2" height="33" fill="#f23645"/>
<rect x="1592" y="616" width="8" height="9" fill="#f23645"/>
<rect x="1604" y="609" width="2" height="39" fill="#f23645"/>
<rect x="1601" y="625" width="8" height="10" fill="#f23645"/>
<rect x="1613" y="631" width="2" height="14" fill="#f23645"/>
<rect x="1610" y="635" width="8" height="7" fill="#f23645"/>
<rect x="1622" y="619" width="2" height="43" fill="#f23645"/>
<rect x="1619" y="642" width="8" height="20" fill="#f23645"/>
<rect x="1631" y="661" width="2" height="64" fill="#f23645"/>
<rect x="1628" y="661" width="8" height="13" fill="#f23645"/>
<rect x="1640" y="665" width="2" height="43" fill="#f23645"/>
<rect x="1637" y="674" width="8" height="28" fill="#f23645"/>
<rect x="1650" y="670" width="2" height="36" fill="#089981"/>
<rect x="1647" y="687" width="8" height="16" fill="#089981"/>
<rect x="1649" y="689" width="4" height="12" fill="#2962ff"/>
<rect x="1659" y="647" width="2" height="44" fill="#089981"/>
<rect x="1656" y="659" width="8" height="28" fill="#089981"/>
<rect x="1658" y="661" width="4" height="24" fill="#2962ff"/>
<rect x="1668" y="621" width="2" height="49" fill="#f23645"/>
<rect x="1665" y="659" width="8" height="2" fill="#f23645"/>
<rect x="1677" y="658" width="2" height="57" fill="#f23645"/>
<rect x="1674" y="661" width="8" height="53" fill="#f23645"/>
<rect x="1686" y="703" width="2" height="93" fill="#f23645"/>
<rect x="1683" y="714" width="8" height="59" fill="#f23645"/>
<rect x="1695" y="750" width="2" height="133" fill="#089981"/>
<rect x="1692" y="750" width="8" height="23" fill="#089981"/>
<rect x="1694" y="752" width="4" height="19" fill="#2962ff"/>
<rect x="1705" y="744" width="2" height="51" fill="#f23645"/>
<rect x="1702" y="750" width="8" height="28" fill="#f23645"/>
<rect x="1714" y="766" width="2" height="28" fill="#f23645"/>
<rect x="1711" y="779" width="8" height="7" fill="#f23645"/>
<rect x="1723" y="774" width="2" height="32" fill="#f23645"/>
<rect x="1720" y="786" width="8" height="18" fill="#f23645"/>
<rect x="1732" y="767" width="2" height="50" fill="#f23645"/>
<rect x="1729" y="802" width="8" height="2" fill="#f23645"/>
<rect x="1741" y="792" width="2" height="26" fill="#089981"/>
<rect x="1738" y="794" width="8" height="11" fill="#089981"/>
<rect x="1740" y="796" width="4" height="7" fill="#2962ff"/>
<rect x="1750" y="786" width="2" height="25" fill="#089981"/>
<rect x="1747" y="790" width="8" height="5" fill="#089981"/>
<rect x="1749" y="792" width="4" height="1" fill="#2962ff"/>
<rect x="1760" y="758" width="2" height="49" fill="#089981"/>
<rect x="1757" y="771" width="8" height="18" fill="#089981"/>
<rect x="1759" y="773" width="4" height="14" fill="#2962ff"/>
<rect x="1769" y="757" width="2" height="40" fill="#f23645"/>
<rect x="1766" y="771" width="8" height="22" fill="#f23645"/>
<rect x="1778" y="767" width="2" height="35" fill="#089981"/>
<rect x="1775" y="773" width="8" height="20" fill="#089981"/>
<rect x="1777" y="775" width="4" height="16" fill="#2962ff"/>
<rect x="1787" y="763" width="2" height="25" fill="#f23645"/>
<rect x="1784" y="773" width="8" height="2" fill="#f23645"/>
<rect x="1796" y="763" width="2" height="22" fill="#f23645"/>
<rect x="1793" y="775" width="8" height="3" fill="#f23645"/>
<rect x="1805" y="767" width="2" height="19" fill="#f23645"/>
<rect x="1802" y="777" width="8" height="8" fill="#f23645"/>
<rect x="1814" y="781" width="2" height="19" fill="#f23645"/>
<rect x="1811" y="784" width="8" height="14" fill="#f23645"/>
<rect x="1824" y="774" width="2" height="27" fill="#089981"/>
<rect x="1821" y="789" width="8" height="9" fill="#089981"/>
<rect x="1823" y="791" width="4" height="5" fill="#2962ff"/>
<rect x="1833" y="788" width="2" height="41" fill="#f23645"/>
<rect x="1830" y="789" width="8" height="21" fill="#f23645"/>
<rect x="1842" y="743" width="2" height="69" fill="#089981"/>
<rect x="1839" y="763" width="8" height="47" fill="#089981"/>
<rect x="1841" y="765" width="4" height="43" fill="#2962ff"/>
<rect x="1851" y="712" width="2" height="63" fill="#089981"/>
<rect x="1848" y="761" width="8" height="2" fill="#089981"/>
<rect x="1860" y="751" width="2" height="40" fill="#f23645"/>
<rect x="1857" y="763" width="8" height="24" fill="#f23645"/>
<rect x="1869" y="773" width="2" height="17" fill="#089981"/>
<rect x="1866" y="782" width="8" height="4" fill="#089981"/>
<rect x="1879" y="768" width="2" height="18" fill="#089981"/>
<rect x="1876" y="776" width="8" height="7" fill="#089981"/>
<rect x="1878" y="778" width="4" height="3" fill="#2962ff"/>
<rect x="1888" y="774" width="2" height="59" fill="#f23645"/>
<rect x="1885" y="776" width="8" height="49" fill="#f23645"/>
<rect x="1897" y="799" width="2" height="50" fill="#089981"/>
<rect x="1894" y="810" width="8" height="15" fill="#089981"/>
<rect x="1896" y="812" width="4" height="11" fill="#2962ff"/>
<rect x="1906" y="788" width="2" height="29" fill="#089981"/>
<rect x="1903" y="790" width="8" height="20" fill="#089981"/>
<rect x="1905" y="792" width="4" height="16" fill="#2962ff"/>
<rect x="1915" y="751" width="2" height="39" fill="#089981"/>
<rect x="1912" y="776" width="8" height="14" fill="#089981"/>
<rect x="1914" y="778" width="4" height="10" fill="#2962ff"/>
<rect x="1924" y="752" width="2" height="57" fill="#089981"/>
<rect x="1921" y="753" width="8" height="21" fill="#089981"/>
<rect x="1923" y="755" width="4" height="17" fill="#2962ff"/>
<rect x="1934" y="742" width="2" height="27" fill="#f23645"/>
<rect x="1931" y="753" width="8" height="10" fill="#f23645"/>
<rect x="1943" y="729" width="2" height="44" fill="#089981"/>
<rect x="1940" y="733" width="8" height="30" fill="#089981"/>
<rect x="1942" y="735" width="4" height="26" fill="#2962ff"/>
<rect x="1952" y="731" width="2" height="80" fill="#f23645"/>
<rect x="1949" y="733" width="8" height="70" fill="#f23645"/>
<rect x="1961" y="800" width="2" height="49" fill="#f23645"/>
<rect x="1958" y="803" width="8" height="19" fill="#f23645"/>
<rect x="1970" y="748" width="2" height="75" fill="#089981"/>
<rect x="1967" y="771" width="8" height="52" fill="#089981"/>
<rect x="1969" y="773" width="4" height="48" fill="#2962ff"/>
<rect x="1979" y="764" width="2" height="25" fill="#f23645"/>
<rect x="1976" y="771" width="8" height="14" fill="#f23645"/>
<rect x="1988" y="758" width="2" height="38" fill="#089981"/>
<rect x="1985" y="773" width="8" height="11" fill="#089981"/>
<rect x="1987" y="775" width="4" height="7" fill="#2962ff"/>
<rect x="1998" y="770" width="2" height="30" fill="#f23645"/>
<rect x="1995" y="773" width="8" height="15" fill="#f23645"/>
<rect x="2007" y="774" width="2" height="38" fill="#f23645"/>
<rect x="2004" y="788" width="8" height="24" fill="#f23645"/>
<rect x="2016" y="801" width="2" height="50" fill="#f23645"/>
<rect x="2013" y="811" width="8" height="29" fill="#f23645"/>
<rect x="2025" y="807" width="2" height="44" fill="#089981"/>
<rect x="2022" y="833" width="8" height="6" fill="#089981"/>
<rect x="2024" y="835" width="4" height="2" fill="#2962ff"/>
<rect x="2034" y="828" width="2" height="23" fill="#f23645"/>
<rect x="2031" y="831" width="8" height="8" fill="#f23645"/>
<rect x="2043" y="837" width="2" height="27" fill="#f23645"/>
<rect x="2040" y="839" width="8" height="3" fill="#f23645"/>
<rect x="2053" y="830" width="2" height="14" fill="#089981"/>
<rect x="2050" y="840" width="8" height="2" fill="#089981"/>
<rect x="2062" y="822" width="2" height="17" fill="#089981"/>
<rect x="2059" y="829" width="8" height="10" fill="#089981"/>
<rect x="2061" y="831" width="4" height="6" fill="#2962ff"/>
<rect x="2071" y="826" width="2" height="18" fill="#f23645"/>
<rect x="2068" y="829" width="8" height="13" fill="#f23645"/>
<rect x="2080" y="822" width="2" height="20" fill="#089981"/>
<rect x="2077" y="828" width="8" height="14" fill="#089981"/>
<rect x="2079" y="830" width="4" height="10" fill="#2962ff"/>
<rect x="2089" y="820" width="2" height="17" fill="#089981"/>
<rect x="2086" y="823" width="8" height="5" fill="#089981"/>
<rect x="2088" y="825" width="4" height="1" fill="#2962ff"/>
<rect x="2098" y="808" width="2" height="20" fill="#089981"/>
<rect x="2095" y="811" width="8" height="12" fill="#089981"/>
<rect x="2097" y="813" width="4" height="8" fill="#2962ff"/>
<rect x="2108" y="810" width="2" height="15" fill="#089981"/>
<rect x="2105" y="810" width="8" height="2" fill="#089981"/>
<rect x="2117" y="802" width="2" height="22" fill="#089981"/>
<rect x="2114" y="809" width="8" height="2" fill="#089981"/>
<rect x="2126" y="797" width="2" height="15" fill="#089981"/>
<rect x="2123" y="808" width="8" height="4" fill="#089981"/>
<rect x="2135" y="803" width="2" height="9" fill="#089981"/>
<rect x="2132" y="805" width="8" height="3" fill="#089981"/>
<rect x="2144" y="780" width="2" height="30" fill="#089981"/>
<rect x="2141" y="782" width="8" height="23" fill="#089981"/>
<rect x="2143" y="784" width="4" height="19" fill="#2962ff"/>
<rect x="2153" y="777" width="2" height="19" fill="#f23645"/>
<rect x="2150" y="782" width="8" height="8" fill="#f23645"/>
<rect x="2162" y="780" width="2" height="18" fill="#089981"/>
<rect x="2159" y="788" width="8" height="2" fill="#089981"/>
<rect x="2172" y="779" width="2" height="17" fill="#089981"/>
<rect x="2169" y="786" width="8" height="2" fill="#089981"/>
<rect x="2181" y="786" width="2" height="37" fill="#f23645"/>
<rect x="2178" y="787" width="8" height="27" fill="#f23645"/>
<rect x="2190" y="812" width="2" height="30" fill="#f23645"/>
<rect x="2187" y="814" width="8" height="23" fill="#f23645"/>
<rect x="2199" y="825" width="2" height="16" fill="#089981"/>
<rect x="2196" y="833" width="8" height="4" fill="#089981"/>
<rect x="2208" y="824" width="2" height="23" fill="#f23645"/>
<rect x="2205" y="832" width="8" height="2" fill="#f23645"/>
<rect x="2217" y="822" width="2" height="13" fill="#089981"/>
<rect x="2214" y="826" width="8" height="9" fill="#089981"/>
<rect x="2216" y="828" width="4" height="5" fill="#2962ff"/>
<rect x="2227" y="818" width="2" height="33" fill="#f23645"/>
<rect x="2224" y="826" width="8" height="19" fill="#f23645"/>
<rect x="2236" y="830" width="2" height="26" fill="#f23645"/>
<rect x="2233" y="847" width="8" height="2" fill="#f23645"/>
<rect x="2245" y="846" width="2" height="25" fill="#f23645"/>
<rect x="2242" y="848" width="8" height="10" fill="#f23645"/>
<rect x="2254" y="856" width="2" height="10" fill="#f23645"/>
<rect x="2251" y="858" width="8" height="2" fill="#f23645"/>
<rect x="2263" y="858" width="2" height="46" fill="#f23645"/>
<rect x="2260" y="860" width="8" height="37" fill="#f23645"/>
<rect x="2272" y="883" width="2" height="44" fill="#089981"/>
<rect x="2269" y="893" width="8" height="4" fill="#089981"/>
<rect x="2282" y="872" width="2" height="27" fill="#f23645"/>
<rect x="2279" y="892" width="8" height="5" fill="#f23645"/>
<rect x="2291" y="864" width="2" height="45" fill="#089981"/>
<rect x="2288" y="872" width="8" height="25" fill="#089981"/>
<rect x="2290" y="874" width="4" height="21" fill="#2962ff"/>
<rect x="2300" y="871" width="2" height="19" fill="#f23645"/>
<rect x="2297" y="871" width="8" height="9" fill="#f23645"/>
<rect x="2309" y="861" width="2" height="17" fill="#089981"/>
<rect x="2306" y="866" width="8" height="12" fill="#089981"/>
<rect x="2308" y="868" width="4" height="8" fill="#2962ff"/>
<rect x="2318" y="853" width="2" height="18" fill="#089981"/>
<rect x="2315" y="855" width="8" height="12" fill="#089981"/>
<rect x="2317" y="857" width="4" height="8" fill="#2962ff"/>
<rect x="2327" y="839" width="2" height="30" fill="#f23645"/>
<rect x="2324" y="855" width="8" height="10" fill="#f23645"/>
<rect x="2336" y="852" width="2" height="15" fill="#089981"/>
<rect x="2333" y="863" width="8" height="2" fill="#089981"/>
<rect x="2346" y="864" width="2" height="15" fill="#f23645"/>
<rect x="2343" y="864" width="8" height="15" fill="#f23645"/>
<rect x="2355" y="871" width="2" height="15" fill="#089981"/>
<rect x="2352" y="877" width="8" height="2" fill="#089981"/>
<rect x="2364" y="871" width="2" height="14" fill="#f23645"/>
<rect x="2361" y="877" width="8" height="2" fill="#f23645"/>
<rect x="2373" y="866" width="2" height="16" fill="#089981"/>
<rect x="2370" y="874" width="8" height="6" fill="#089981"/>
<rect x="2372" y="876" width="4" height="2" fill="#2962ff"/>
<rect x="2382" y="857" width="2" height="20" fill="#089981"/>
<rect x="2379" y="858" width="8" height="15" fill="#089981"/>
<rect x="2381" y="860" width="4" height="11" fill="#2962ff"/>
<rect x="2391" y="847" width="2" height="15" fill="#089981"/>
<rect x="2388" y="848" width="8" height="10" fill="#089981"/>
<rect x="2390" y="850" width="4" height="6" fill="#2962ff"/>
<rect x="2401" y="835" width="2" height="23" fill="#f23645"/>
<rect x="2398" y="847" width="8" height="11" fill="#f23645"/>
<rect x="2410" y="833" width="2" height="35" fill="#089981"/>
<rect x="2407" y="835" width="8" height="23" fill="#089981"/>
<rect x="2409" y="837" width="4" height="19" fill="#2962ff"/>
<rect x="2419" y="824" width="2" height="13" fill="#089981"/>
<rect x="2416" y="829" width="8" height="6" fill="#089981"/>
<rect x="2418" y="831" width="4" height="2" fill="#2962ff"/>
<rect x="2428" y="812" width="2" height="28" fill="#089981"/>
<rect x="2425" y="819" width="8" height="10" fill="#089981"/>
<rect x="2427" y="821" width="4" height="6" fill="#2962ff"/>
<rect x="2437" y="808" width="2" height="21" fill="#089981"/>
<rect x="2434" y="815" width="8" height="3" fill="#089981"/>
<rect x="2446" y="805" width="2" height="14" fill="#089981"/>
<rect x="2443" y="811" width="8" height="3" fill="#089981"/>
<rect x="2456" y="807" width="2" height="24" fill="#f23645"/>
<rect x="2453" y="809" width="8" height="18" fill="#f23645"/>
<rect x="2465" y="807" width="2" height="28" fill="#089981"/>
<rect x="2462" y="817" width="8" height="10" fill="#089981"/>
<rect x="2464" y="819" width="4" height="6" fill="#2962ff"/>
<rect x="2474" y="803" width="2" height="22" fill="#f23645"/>
<rect x="2471" y="817" width="8" height="6" fill="#f23645"/>
<rect x="2483" y="821" width="2" height="30" fill="#f23645"/>
<rect x="2480" y="823" width="8" height="5" fill="#f23645"/>
<rect x="2492" y="812" width="2" height="16" fill="#089981"/>
<rect x="2489" y="818" width="8" height="10" fill="#089981"/>
<rect x="2491" y="820" width="4" height="6" fill="#2962ff"/>
<rect x="2501" y="812" width="2" height="13" fill="#f23645"/>
<rect x="2498" y="818" width="8" height="5" fill="#f23645"/>
<rect x="2510" y="821" width="2" height="22" fill="#f23645"/>
<rect x="2507" y="822" width="8" height="17" fill="#f23645"/>
<rect x="2520" y="837" width="2" height="10" fill="#f23645"/>
<rect x="2517" y="840" width="8" height="5" fill="#f23645"/>
<rect x="2529" y="838" width="2" height="17" fill="#f23645"/>
<rect x="2526" y="845" width="8" height="10" fill="#f23645"/>
<rect x="2538" y="854" width="2" height="26" fill="#f23645"/>
<rect x="2535" y="854" width="8" height="15" fill="#f23645"/>
<rect x="2547" y="864" width="2" height="12" fill="#089981"/>
<rect x="2544" y="866" width="8" height="2" fill="#089981"/>
<rect x="2556" y="819" width="2" height="47" fill="#089981"/>
<rect x="2553" y="819" width="8" height="47" fill="#089981"/>
<rect x="2555" y="821" width="4" height="43" fill="#2962ff"/>
<rect x="2565" y="794" width="2" height="26" fill="#089981"/>
<rect x="2562" y="813" width="8" height="7" fill="#089981"/>
<rect x="2564" y="815" width="4" height="3" fill="#2962ff"/>
<rect x="2575" y="779" width="2" height="38" fill="#089981"/>
<rect x="2572" y="780" width="8" height="34" fill="#089981"/>
<rect x="2574" y="782" width="4" height="30" fill="#2962ff"/>
<rect x="2584" y="765" width="2" height="34" fill="#f23645"/>
<rect x="2581" y="780" width="8" height="12" fill="#f23645"/>
<rect x="2593" y="773" width="2" height="38" fill="#f23645"/>
<rect x="2590" y="792" width="8" height="2" fill="#f23645"/>
<rect x="2602" y="767" width="2" height="50" fill="#089981"/>
<rect x="2599" y="775" width="8" height="20" fill="#089981"/>
<rect x="2601" y="777" width="4" height="16" fill="#2962ff"/>
<rect x="2611" y="772" width="2" height="32" fill="#f23645"/>
<rect x="2608" y="775" width="8" height="28" fill="#f23645"/>
<rect x="2620" y="797" width="2" height="41" fill="#f23645"/>
<rect x="2617" y="802" width="8" height="30" fill="#f23645"/>
<rect x="2630" y="822" width="2" height="15" fill="#f23645"/>
<rect x="2627" y="832" width="8" height="4" fill="#f23645"/>
<rect x="2639" y="833" width="2" height="18" fill="#f23645"/>
<rect x="2636" y="835" width="8" height="12" fill="#f23645"/>
<rect x="2648" y="830" width="2" height="29" fill="#089981"/>
<rect x="2645" y="839" width="8" height="8" fill="#089981"/>
<rect x="2647" y="841" width="4" height="4" fill="#2962ff"/>
<rect x="2657" y="837" width="2" height="25" fill="#089981"/>
<rect x="2654" y="837" width="8" height="2" fill="#089981"/>
<rect x="2666" y="832" width="2" height="20" fill="#f23645"/>
<rect x="2663" y="838" width="8" height="4" fill="#f23645"/>
<rect x="2675" y="826" width="2" height="21" fill="#089981"/>
<rect x="2672" y="835" width="8" height="7" fill="#089981"/>
<rect x="2674" y="837" width="4" height="3" fill="#2962ff"/>
<rect x="2684" y="799" width="2" height="36" fill="#089981"/>
<rect x="2681" y="803" width="8" height="32" fill="#089981"/>
<rect x="2683" y="805" width="4" height="28" fill="#2962ff"/>
<rect x="2694" y="784" width="2" height="45" fill="#f23645"/>
<rect x="2691" y="803" width="8" height="26" fill="#f23645"/>
<rect x="2703" y="822" width="2" height="10" fill="#f23645"/>
<rect x="2700" y="828" width="8" height="2" fill="#f23645"/>
<rect x="2712" y="830" width="2" height="21" fill="#f23645"/>
<rect x="2709" y="830" width="8" height="4" fill="#f23645"/>
<rect x="2721" y="819" width="2" height="17" fill="#089981"/>
<rect x="2718" y="831" width="8" height="2" fill="#089981"/>
<rect x="2730" y="817" width="2" height="21" fill="#089981"/>
<rect x="2727" y="827" width="8" height="6" fill="#089981"/>
<rect x="2729" y="829" width="4" height="2" fill="#2962ff"/>
<rect x="2739" y="819" width="2" height="18" fill="#089981"/>
<rect x="2736" y="825" width="8" height="2" fill="#089981"/>
<rect x="2749" y="813" width="2" height="30" fill="#f23645"/>
<rect x="2746" y="825" width="8" height="17" fill="#f23645"/>
<rect x="2758" y="839" width="2" height="34" fill="#f23645"/>
<rect x="2755" y="841" width="8" height="29" fill="#f23645"/>
<rect x="2767" y="864" width="2" height="20" fill="#f23645"/>
<rect x="2764" y="869" width="8" height="2" fill="#f23645"/>
<rect x="2776" y="864" width="2" height="12" fill="#089981"/>
<rect x="2773" y="865" width="8" height="6" fill="#089981"/>
<rect x="2775" y="867" width="4" height="2" fill="#2962ff"/>
<rect x="2785" y="859" width="2" height="15" fill="#089981"/>
<rect x="2782" y="860" width="8" height="5" fill="#089981"/>
<rect x="2784" y="862" width="4" height="1" fill="#2962ff"/>
<rect x="2794" y="849" width="2" height="12" fill="#089981"/>
<rect x="2791" y="858" width="8" height="2" fill="#089981"/>
<rect x="2804" y="851" width="2" height="18" fill="#f23645"/>
<rect x="2801" y="856" width="8" height="10" fill="#f23645"/>
<rect x="2813" y="861" width="2" height="29" fill="#f23645"/>
<rect x="2810" y="866" width="8" height="23" fill="#f23645"/>
<rect x="2822" y="871" width="2" height="17" fill="#089981"/>
<rect x="2819" y="878" width="8" height="9" fill="#089981"/>
<rect x="2821" y="880" width="4" height="5" fill="#2962ff"/>
<rect x="2831" y="868" width="2" height="10" fill="#089981"/>
<rect x="2828" y="869" width="8" height="9" fill="#089981"/>
<rect x="2830" y="871" width="4" height="5" fill="#2962ff"/>
<rect x="2840" y="867" width="2" height="12" fill="#f23645"/>
<rect x="2837" y="869" width="8" height="4" fill="#f23645"/>
<rect x="2849" y="854" width="2" height="22" fill="#089981"/>
<rect x="2846" y="855" width="8" height="18" fill="#089981"/>
<rect x="2848" y="857" width="4" height="14" fill="#2962ff"/>
<rect x="2858" y="843" width="2" height="16" fill="#089981"/>
<rect x="2855" y="843" width="8" height="13" fill="#089981"/>
<rect x="2857" y="845" width="4" height="9" fill="#2962ff"/>
<rect x="2868" y="835" width="2" height="21" fill="#f23645"/>
<rect x="2865" y="843" width="8" height="9" fill="#f23645"/>
<rect x="2877" y="847" width="2" height="27" fill="#f23645"/>
<rect x="2874" y="850" width="8" height="24" fill="#f23645"/>
<rect x="2886" y="873" width="2" height="24" fill="#f23645"/>
<rect x="2883" y="873" width="8" height="14" fill="#f23645"/>
<rect x="2895" y="883" width="2" height="15" fill="#f23645"/>
<rect x="2892" y="887" width="8" height="2" fill="#f23645"/>
<rect x="2904" y="883" width="2" height="6" fill="#089981"/>
<rect x="2901" y="884" width="8" height="5" fill="#089981"/>
<rect x="2903" y="886" width="4" height="1" fill="#2962ff"/>
<rect x="2913" y="858" width="2" height="27" fill="#089981"/>
<rect x="2910" y="874" width="8" height="10" fill="#089981"/>
<rect x="2912" y="876" width="4" height="6" fill="#2962ff"/>
<rect x="2923" y="868" width="2" height="26" fill="#f23645"/>
<rect x="2920" y="875" width="8" height="16" fill="#f23645"/>
<rect x="2932" y="884" width="2" height="17" fill="#089981"/>
<rect x="2929" y="888" width="8" height="2" fill="#089981"/>
<rect x="2941" y="885" width="2" height="17" fill="#f23645"/>
<rect x="2938" y="888" width="8" height="7" fill="#f23645"/>
<rect x="2950" y="887" width="2" height="20" fill="#f23645"/>
<rect x="2947" y="894" width="8" height="8" fill="#f23645"/>
<rect x="2959" y="873" width="2" height="43" fill="#f23645"/>
<rect x="2956" y="902" width="8" height="7" fill="#f23645"/>
<rect x="2968" y="905" width="2" height="32" fill="#f23645"/>
<rect x="2965" y="909" width="8" height="17" fill="#f23645"/>
<rect x="2978" y="896" width="2" height="32" fill="#089981"/>
<rect x="2975" y="898" width="8" height="28" fill="#089981"/>
<rect x="2977" y="900" width="4" height="24" fill="#2962ff"/>
<rect x="2987" y="843" width="2" height="59" fill="#089981"/>
<rect x="2984" y="855" width="8" height="43" fill="#089981"/>
<rect x="2986" y="857" width="4" height="39" fill="#2962ff"/>
<rect x="2996" y="846" width="2" height="31" fill="#f23645"/>
<rect x="2993" y="855" width="8" height="5" fill="#f23645"/>
<rect x="3005" y="850" width="2" height="26" fill="#f23645"/>
<rect x="3002" y="859" width="8" height="2" fill="#f23645"/>
<rect x="3014" y="831" width="2" height="35" fill="#f23645"/>
<rect x="3011" y="860" width="8" height="4" fill="#f23645"/>
<rect x="3023" y="855" width="2" height="16" fill="#089981"/>
<rect x="3020" y="862" width="8" height="2" fill="#089981"/>
<rect x="3032" y="851" width="2" height="21" fill="#089981"/>
<rect x="3029" y="855" width="8" height="7" fill="#089981"/>
<rect x="3031" y="857" width="4" height="3" fill="#2962ff"/>
<rect x="3042" y="855" width="2" height="13" fill="#f23645"/>
<rect x="3039" y="855" width="8" height="4" fill="#f23645"/>
<rect x="3051" y="856" width="2" height="32" fill="#f23645"/>
<rect x="3048" y="859" width="8" height="29" fill="#f23645"/>
<rect x="3060" y="862" width="2" height="30" fill="#089981"/>
<rect x="3057" y="870" width="8" height="17" fill="#089981"/>
<rect x="3059" y="872" width="4" height="13" fill="#2962ff"/>
<rect x="3069" y="862" width="2" height="13" fill="#f23645"/>
<rect x="3066" y="869" width="8" height="2" fill="#f23645"/>
<rect x="3078" y="870" width="2" height="28" fill="#f23645"/>
<rect x="3075" y="870" width="8" height="23" fill="#f23645"/>
<rect x="3087" y="889" width="2" height="6" fill="#089981"/>
<rect x="3084" y="892" width="8" height="2" fill="#089981"/>
<rect x="3097" y="887" width="2" height="7" fill="#089981"/>
<rect x="3094" y="888" width="8" height="4" fill="#089981"/>
<line x1="20" y1="888" x2="3418" y2="888" stroke="#2962ff" stroke-width="2" stroke-dasharray="2 4"/>
</g>
<line x1="990" y1="153.9" x2="3424" y2="153.9" stroke="#9c27b0" stroke-width="2"/>
<line x1="2730" y1="932" x2="3424" y2="932" stroke="#9c27b0" stroke-width="2"/>
<text x="37.25" y="94.10" font-size="25" fill="#131722" textLength="382.58" lengthAdjust="spacingAndGlyphs">Aptos / US Dollar · 1D · COINBASE</text>
<text x="433.39" y="94.10" font-size="25" fill="#131722" textLength="18.23" lengthAdjust="spacingAndGlyphs">O</text>
<text x="452.20" y="94.10" font-size="25" fill="#089981" textLength="51.02" lengthAdjust="spacingAndGlyphs">4.42</text>
<text x="516.33" y="94.10" font-size="25" fill="#131722" textLength="18.23" lengthAdjust="spacingAndGlyphs">H</text>
<text x="534.89" y="94.10" font-size="25" fill="#089981" textLength="51.66" lengthAdjust="spacingAndGlyphs">4.48</text>
<text x="599.98" y="94.10" font-size="25" fill="#131722" textLength="12.99" lengthAdjust="spacingAndGlyphs">L</text>
<text x="613.49" y="94.10" font-size="25" fill="#089981" textLength="51.66" lengthAdjust="spacingAndGlyphs">4.38</text>
<text x="677.89" y="94.10" font-size="25" fill="#131722" textLength="17.22" lengthAdjust="spacingAndGlyphs">C</text>
<text x="695.41" y="94.10" font-size="25" fill="#089981" textLength="50.40" lengthAdjust="spacingAndGlyphs">4.47</text>
<text x="759.89" y="94.10" font-size="25" fill="#131722" textLength="35.24" lengthAdjust="spacingAndGlyphs">Vol</text>
<text x="794.36" y="94.10" font-size="25" fill="#089981" textLength="51.28" lengthAdjust="spacingAndGlyphs">96.8</text>
<text x="848.36" y="94.10" font-size="25" fill="#089981" textLength="15.81" lengthAdjust="spacingAndGlyphs">K</text>
<text x="35.23" y="128.10" font-size="25" fill="#131722" textLength="179.43" lengthAdjust="spacingAndGlyphs">EMA (50, close)</text>
<text x="229.40" y="128.10" font-size="25" fill="#2962ff" textLength="50.51" lengthAdjust="spacingAndGlyphs">4.80</text>
<text x="35.26" y="161.50" font-size="25" fill="#131722" textLength="190.48" lengthAdjust="spacingAndGlyphs">EMA (100, close)</text>
<text x="240.37" y="161.50" font-size="25" fill="#e91e63" textLength="45.20" lengthAdjust="spacingAndGlyphs">5.17</text>
<text x="3442.84" y="252.36" font-size="32.5" fill="#131722" textLength="87.43" lengthAdjust="spacingAndGlyphs">14.00</text>
<text x="3442.84" y="388.08" font-size="32.5" fill="#131722" textLength="87.43" lengthAdjust="spacingAndGlyphs">12.00</text>
<text x="3442.84" y="523.80" font-size="32.5" fill="#131722" textLength="87.43" lengthAdjust="spacingAndGlyphs">10.00</text>
<text x="3444.01" y="659.52" font-size="32.5" fill="#131722" textLength="66.62" lengthAdjust="spacingAndGlyphs">8.00</text>
<text x="3443.75" y="795.24" font-size="32.5" fill="#131722" textLength="66.89" lengthAdjust="spacingAndGlyphs">6.00</text>
<text x="3444.72" y="930.96" font-size="32.5" fill="#131722" textLength="65.90" lengthAdjust="spacingAndGlyphs">4.00</text>
<rect x="3430.4" y="61.9" width="115" height="52" rx="8" fill="#fff" stroke="#eef0f3" stroke-width="1.2"/>
<text x="3447.86" y="95.80" font-size="24.7" fill="#131722" textLength="50.28" lengthAdjust="spacingAndGlyphs">USD</text>
<path d="M3424,131 H3540.3 a3.6,3.6 0 0 1 3.6,3.6 V173.2 a3.6,3.6 0 0 1 -3.6,3.6 H3424 Z" fill="#9c27b0"/>
<text x="3445.38" y="165.30" font-size="32.5" fill="#ffffff" textLength="86.12" lengthAdjust="spacingAndGlyphs">15.28</text>
<path d="M3424,909.5 H3520.4 a3.6,3.6 0 0 1 3.6,3.6 V950.7 a3.6,3.6 0 0 1 -3.6,3.6 H3424 Z" fill="#9c27b0"/>
<text x="3444.69" y="942.90" font-size="32.5" fill="#ffffff" textLength="66.83" lengthAdjust="spacingAndGlyphs">3.82</text>
<clipPath id="cm"><rect x="20" y="1018" width="3400" height="412"/></clipPath>
<g clip-path="url(#cm)">
<rect x="17.0" y="1214.0" width="7" height="28.4" fill="#ff5252"/>
<rect x="26.2" y="1214.0" width="7" height="34.2" fill="#ff5252"/>
<rect x="35.3" y="1214.0" width="7" height="34.2" fill="#ffcdd2"/>
<rect x="44.5" y="1214.0" width="7" height="32.6" fill="#ffcdd2"/>
<rect x="53.6" y="1214.0" width="7" height="22.1" fill="#ffcdd2"/>
<rect x="62.8" y="1214.0" width="7" height="14.0" fill="#ffcdd2"/>
<rect x="71.9" y="1214.0" width="7" height="2.2" fill="#ffcdd2"/>
<rect x="81.1" y="1214.3" width="7" height="1.7" fill="#26a69a"/>
<rect x="90.3" y="1204.9" width="7" height="11.1" fill="#26a69a"/>
<rect x="99.4" y="1195.1" width="7" height="20.9" fill="#26a69a"/>
<rect x="108.6" y="1190.8" width="7" height="25.2" fill="#26a69a"/>
<rect x="117.7" y="1194.0" width="7" height="22.0" fill="#b2dfdb"/>
<rect x="126.9" y="1200.2" width="7" height="15.8" fill="#b2dfdb"/>
<rect x="136.1" y="1205.7" width="7" height="10.3" fill="#b2dfdb"/>
<rect x="145.2" y="1209.8" width="7" height="6.2" fill="#b2dfdb"/>
<rect x="154.4" y="1209.4" width="7" height="6.6" fill="#26a69a"/>
<rect x="163.5" y="1208.9" width="7" height="7.1" fill="#26a69a"/>
<rect x="172.7" y="1205.6" width="7" height="10.4" fill="#26a69a"/>
<rect x="181.8" y="1202.2" width="7" height="13.8" fill="#26a69a"/>
<rect x="191.0" y="1194.1" width="7" height="21.9" fill="#26a69a"/>
<rect x="200.2" y="1189.5" width="7" height="26.5" fill="#26a69a"/>
<rect x="209.3" y="1185.8" width="7" height="30.2" fill="#26a69a"/>
<rect x="218.5" y="1188.8" width="7" height="27.2" fill="#b2dfdb"/>
<rect x="227.6" y="1194.0" width="7" height="22.0" fill="#b2dfdb"/>
<rect x="236.8" y="1199.4" width="7" height="16.6" fill="#b2dfdb"/>
<rect x="245.9" y="1203.3" width="7" height="12.7" fill="#b2dfdb"/>
<rect x="255.1" y="1207.3" width="7" height="8.7" fill="#b2dfdb"/>
<rect x="264.3" y="1212.9" width="7" height="3.1" fill="#b2dfdb"/>
<rect x="273.4" y="1214.0" width="7" height="6.2" fill="#ff5252"/>
<rect x="282.6" y="1214.0" width="7" height="8.6" fill="#ff5252"/>
<rect x="291.7" y="1214.0" width="7" height="12.3" fill="#ff5252"/>
<rect x="300.9" y="1214.0" width="7" height="14.1" fill="#ff5252"/>
<rect x="310.1" y="1214.0" width="7" height="18.7" fill="#ff5252"/>
<rect x="319.2" y="1214.0" width="7" height="21.5" fill="#ff5252"/>
<rect x="328.4" y="1214.0" width="7" height="20.5" fill="#ffcdd2"/>
<rect x="337.5" y="1214.0" width="7" height="16.7" fill="#ffcdd2"/>
<rect x="346.7" y="1214.0" width="7" height="10.6" fill="#ffcdd2"/>
<rect x="355.8" y="1214.0" width="7" height="6.3" fill="#ffcdd2"/>
<rect x="365.0" y="1214.0" width="7" height="5.6" fill="#ffcdd2"/>
<rect x="374.2" y="1214.0" width="7" height="3.9" fill="#ffcdd2"/>
<rect x="383.3" y="1215.0" width="7" height="1.0" fill="#26a69a"/>
<rect x="392.5" y="1214.0" width="7" height="1.9" fill="#ff5252"/>
<rect x="401.6" y="1214.0" width="7" height="4.3" fill="#ff5252"/>
<rect x="410.8" y="1214.0" width="7" height="7.1" fill="#ff5252"/>
<rect x="420.0" y="1214.0" width="7" height="6.2" fill="#ffcdd2"/>
<rect x="429.1" y="1214.0" width="7" height="2.1" fill="#ffcdd2"/>
<rect x="438.3" y="1206.9" width="7" height="9.1" fill="#26a69a"/>
<rect x="447.4" y="1196.0" width="7" height="20.0" fill="#26a69a"/>
<rect x="456.6" y="1180.0" width="7" height="36.0" fill="#26a69a"/>
<rect x="465.7" y="1174.9" width="7" height="41.1" fill="#26a69a"/>
<rect x="474.9" y="1173.8" width="7" height="42.2" fill="#26a69a"/>
<rect x="484.1" y="1173.6" width="7" height="42.4" fill="#26a69a"/>
<rect x="493.2" y="1177.4" width="7" height="38.6" fill="#b2dfdb"/>
<rect x="502.4" y="1181.3" width="7" height="34.7" fill="#b2dfdb"/>
<rect x="511.5" y="1181.4" width="7" height="34.6" fill="#b2dfdb"/>
<rect x="520.7" y="1188.5" width="7" height="27.5" fill="#b2dfdb"/>
<rect x="529.8" y="1194.5" width="7" height="21.5" fill="#b2dfdb"/>
<rect x="539.0" y="1204.6" width="7" height="11.4" fill="#b2dfdb"/>
<rect x="548.2" y="1213.8" width="7" height="2.2" fill="#b2dfdb"/>
<rect x="557.3" y="1214.0" width="7" height="3.4" fill="#ff5252"/>
<rect x="566.5" y="1211.7" width="7" height="4.3" fill="#26a69a"/>
<rect x="575.6" y="1203.2" width="7" height="12.8" fill="#26a69a"/>
<rect x="584.8" y="1204.5" width="7" height="11.5" fill="#b2dfdb"/>
<rect x="594.0" y="1205.8" width="7" height="10.2" fill="#b2dfdb"/>
<rect x="603.1" y="1207.6" width="7" height="8.4" fill="#b2dfdb"/>
<rect x="612.3" y="1203.0" width="7" height="13.0" fill="#26a69a"/>
<rect x="621.4" y="1210.3" width="7" height="5.7" fill="#b2dfdb"/>
<rect x="630.6" y="1214.0" width="7" height="6.7" fill="#ff5252"/>
<rect x="639.7" y="1214.0" width="7" height="8.9" fill="#ff5252"/>
<rect x="648.9" y="1209.2" width="7" height="6.8" fill="#26a69a"/>
<rect x="658.1" y="1199.2" width="7" height="16.8" fill="#26a69a"/>
<rect x="667.2" y="1194.6" width="7" height="21.4" fill="#26a69a"/>
<rect x="676.4" y="1190.4" width="7" height="25.6" fill="#26a69a"/>
<rect x="685.5" y="1194.9" width="7" height="21.1" fill="#b2dfdb"/>
<rect x="694.7" y="1200.6" width="7" height="15.4" fill="#b2dfdb"/>
<rect x="703.8" y="1205.1" width="7" height="10.9" fill="#b2dfdb"/>
<rect x="713.0" y="1212.7" width="7" height="3.3" fill="#b2dfdb"/>
<rect x="722.2" y="1214.0" width="7" height="1.8" fill="#ff5252"/>
<rect x="731.3" y="1214.0" width="7" height="3.3" fill="#ff5252"/>
<rect x="740.5" y="1214.0" width="7" height="1.9" fill="#ffcdd2"/>
<rect x="749.6" y="1214.0" width="7" height="7.2" fill="#ff5252"/>
<rect x="758.8" y="1214.0" width="7" height="8.4" fill="#ff5252"/>
<rect x="768.0" y="1214.0" width="7" height="23.4" fill="#ff5252"/>
<rect x="777.1" y="1214.0" width="7" height="28.5" fill="#ff5252"/>
<rect x="786.3" y="1214.0" width="7" height="32.4" fill="#ff5252"/>
<rect x="795.4" y="1214.0" width="7" height="33.6" fill="#ff5252"/>
<rect x="804.6" y="1214.0" width="7" height="24.3" fill="#ffcdd2"/>
<rect x="813.7" y="1214.0" width="7" height="20.4" fill="#ffcdd2"/>
<rect x="822.9" y="1214.0" width="7" height="25.6" fill="#ff5252"/>
<rect x="832.1" y="1214.0" width="7" height="29.8" fill="#ff5252"/>
<rect x="841.2" y="1214.0" width="7" height="34.6" fill="#ff5252"/>
<rect x="850.4" y="1214.0" width="7" height="41.1" fill="#ff5252"/>
<rect x="859.5" y="1214.0" width="7" height="44.7" fill="#ff5252"/>
<rect x="868.7" y="1214.0" width="7" height="40.7" fill="#ffcdd2"/>
<rect x="877.9" y="1214.0" width="7" height="24.2" fill="#ffcdd2"/>
<rect x="887.0" y="1214.0" width="7" height="9.9" fill="#ffcdd2"/>
<rect x="896.2" y="1214.0" width="7" height="1.6" fill="#ffcdd2"/>
<rect x="905.3" y="1203.1" width="7" height="12.9" fill="#26a69a"/>
<rect x="914.5" y="1190.4" width="7" height="25.6" fill="#26a69a"/>
<rect x="923.6" y="1153.3" width="7" height="62.7" fill="#26a69a"/>
<rect x="932.8" y="1148.4" width="7" height="67.6" fill="#26a69a"/>
<rect x="942.0" y="1156.1" width="7" height="59.9" fill="#b2dfdb"/>
<rect x="951.1" y="1170.2" width="7" height="45.8" fill="#b2dfdb"/>
<rect x="960.3" y="1174.9" width="7" height="41.1" fill="#b2dfdb"/>
<rect x="969.4" y="1176.2" width="7" height="39.8" fill="#b2dfdb"/>
<rect x="978.6" y="1185.5" width="7" height="30.5" fill="#b2dfdb"/>
<rect x="987.7" y="1190.9" width="7" height="25.1" fill="#b2dfdb"/>
<rect x="996.9" y="1199.1" width="7" height="16.9" fill="#b2dfdb"/>
<rect x="1006.1" y="1206.6" width="7" height="9.4" fill="#b2dfdb"/>
<rect x="1015.2" y="1209.6" width="7" height="6.4" fill="#b2dfdb"/>
<rect x="1024.4" y="1208.3" width="7" height="7.7" fill="#26a69a"/>
<rect x="1033.5" y="1206.0" width="7" height="10.0" fill="#26a69a"/>
<rect x="1042.7" y="1208.7" width="7" height="7.3" fill="#b2dfdb"/>
<rect x="1051.9" y="1214.0" width="7" height="5.5" fill="#ff5252"/>
<rect x="1061.0" y="1214.0" width="7" height="11.2" fill="#ff5252"/>
<rect x="1070.2" y="1214.0" width="7" height="7.8" fill="#ffcdd2"/>
<rect x="1079.3" y="1214.0" width="7" height="5.3" fill="#ffcdd2"/>
<rect x="1088.5" y="1212.9" width="7" height="3.1" fill="#26a69a"/>
<rect x="1097.6" y="1209.2" width="7" height="6.8" fill="#26a69a"/>
<rect x="1106.8" y="1207.3" width="7" height="8.7" fill="#26a69a"/>
<rect x="1116.0" y="1204.6" width="7" height="11.4" fill="#26a69a"/>
<rect x="1125.1" y="1196.1" width="7" height="19.9" fill="#26a69a"/>
<rect x="1134.3" y="1196.7" width="7" height="19.3" fill="#b2dfdb"/>
<rect x="1143.4" y="1205.0" width="7" height="11.0" fill="#b2dfdb"/>
<rect x="1152.6" y="1200.5" width="7" height="15.5" fill="#26a69a"/>
<rect x="1161.8" y="1200.8" width="7" height="15.2" fill="#b2dfdb"/>
<rect x="1170.9" y="1204.0" width="7" height="12.0" fill="#b2dfdb"/>
<rect x="1180.1" y="1214.0" width="7" height="21.6" fill="#ff5252"/>
<rect x="1189.2" y="1214.0" width="7" height="45.0" fill="#ff5252"/>
<rect x="1198.4" y="1214.0" width="7" height="44.9" fill="#ffcdd2"/>
<rect x="1207.5" y="1214.0" width="7" height="35.1" fill="#ffcdd2"/>
<rect x="1216.7" y="1214.0" width="7" height="22.5" fill="#ffcdd2"/>
<rect x="1225.9" y="1214.0" width="7" height="23.0" fill="#ff5252"/>
<rect x="1235.0" y="1214.0" width="7" height="20.4" fill="#ffcdd2"/>
<rect x="1244.2" y="1214.0" width="7" height="15.4" fill="#ffcdd2"/>
<rect x="1253.3" y="1214.0" width="7" height="23.4" fill="#ff5252"/>
<rect x="1262.5" y="1214.0" width="7" height="40.0" fill="#ff5252"/>
<rect x="1271.6" y="1214.0" width="7" height="53.9" fill="#ff5252"/>
<rect x="1280.8" y="1214.0" width="7" height="66.2" fill="#ff5252"/>
<rect x="1290.0" y="1214.0" width="7" height="85.3" fill="#ff5252"/>
<rect x="1299.1" y="1214.0" width="7" height="96.4" fill="#ff5252"/>
<rect x="1308.3" y="1214.0" width="7" height="93.2" fill="#ffcdd2"/>
<rect x="1317.4" y="1214.0" width="7" height="84.9" fill="#ffcdd2"/>
<rect x="1326.6" y="1214.0" width="7" height="77.8" fill="#ffcdd2"/>
<rect x="1335.8" y="1214.0" width="7" height="76.9" fill="#ffcdd2"/>
<rect x="1344.9" y="1214.0" width="7" height="72.2" fill="#ffcdd2"/>
<rect x="1354.1" y="1214.0" width="7" height="59.7" fill="#ffcdd2"/>
<rect x="1363.2" y="1214.0" width="7" height="51.3" fill="#ffcdd2"/>
<rect x="1372.4" y="1214.0" width="7" height="41.9" fill="#ffcdd2"/>
<rect x="1381.5" y="1214.0" width="7" height="34.7" fill="#ffcdd2"/>
<rect x="1390.7" y="1214.0" width="7" height="23.5" fill="#ffcdd2"/>
<rect x="1399.9" y="1214.0" width="7" height="11.0" fill="#ffcdd2"/>
<rect x="1409.0" y="1209.6" width="7" height="6.4" fill="#26a69a"/>
<rect x="1418.2" y="1196.8" width="7" height="19.2" fill="#26a69a"/>
<rect x="1427.3" y="1187.2" width="7" height="28.8" fill="#26a69a"/>
<rect x="1436.5" y="1180.5" width="7" height="35.5" fill="#26a69a"/>
<rect x="1445.6" y="1182.5" width="7" height="33.5" fill="#b2dfdb"/>
<rect x="1454.8" y="1191.3" width="7" height="24.7" fill="#b2dfdb"/>
<rect x="1464.0" y="1201.0" width="7" height="15.0" fill="#b2dfdb"/>
<rect x="1473.1" y="1201.5" width="7" height="14.5" fill="#b2dfdb"/>
<rect x="1482.3" y="1201.4" width="7" height="14.6" fill="#26a69a"/>
<rect x="1491.4" y="1204.6" width="7" height="11.4" fill="#b2dfdb"/>
<rect x="1500.6" y="1210.1" width="7" height="5.9" fill="#b2dfdb"/>
<rect x="1509.8" y="1206.8" width="7" height="9.2" fill="#26a69a"/>
<rect x="1518.9" y="1199.3" width="7" height="16.7" fill="#26a69a"/>
<rect x="1528.1" y="1197.0" width="7" height="19.0" fill="#26a69a"/>
<rect x="1537.2" y="1189.9" width="7" height="26.1" fill="#26a69a"/>
<rect x="1546.4" y="1190.9" width="7" height="25.1" fill="#b2dfdb"/>
<rect x="1555.5" y="1201.1" width="7" height="14.9" fill="#b2dfdb"/>
<rect x="1564.7" y="1207.0" width="7" height="9.0" fill="#b2dfdb"/>
<rect x="1573.9" y="1208.2" width="7" height="7.8" fill="#b2dfdb"/>
<rect x="1583.0" y="1211.3" width="7" height="4.7" fill="#b2dfdb"/>
<rect x="1592.2" y="1214.4" width="7" height="1.6" fill="#b2dfdb"/>
<rect x="1601.3" y="1214.0" width="7" height="3.3" fill="#ff5252"/>
<rect x="1610.5" y="1214.0" width="7" height="5.4" fill="#ff5252"/>
<rect x="1619.6" y="1214.0" width="7" height="9.0" fill="#ff5252"/>
<rect x="1628.8" y="1214.0" width="7" height="12.1" fill="#ff5252"/>
<rect x="1638.0" y="1214.0" width="7" height="17.2" fill="#ff5252"/>
<rect x="1647.1" y="1214.0" width="7" height="16.4" fill="#ffcdd2"/>
<rect x="1656.3" y="1214.0" width="7" height="9.8" fill="#ffcdd2"/>
<rect x="1665.4" y="1214.0" width="7" height="4.7" fill="#ffcdd2"/>
<rect x="1674.6" y="1214.0" width="7" height="9.0" fill="#ff5252"/>
<rect x="1683.8" y="1214.0" width="7" height="19.9" fill="#ff5252"/>
<rect x="1692.9" y="1214.0" width="7" height="21.2" fill="#ff5252"/>
<rect x="1702.1" y="1214.0" width="7" height="24.5" fill="#ff5252"/>
<rect x="1711.2" y="1214.0" width="7" height="25.7" fill="#ff5252"/>
<rect x="1720.4" y="1214.0" width="7" height="26.9" fill="#ff5252"/>
<rect x="1729.5" y="1214.0" width="7" height="25.1" fill="#ffcdd2"/>
<rect x="1738.7" y="1214.0" width="7" height="20.1" fill="#ffcdd2"/>
<rect x="1747.9" y="1214.0" width="7" height="14.1" fill="#ffcdd2"/>
<rect x="1757.0" y="1214.0" width="7" height="5.4" fill="#ffcdd2"/>
<rect x="1766.2" y="1214.0" width="7" height="1.9" fill="#ffcdd2"/>
<rect x="1775.3" y="1209.3" width="7" height="6.7" fill="#26a69a"/>
<rect x="1784.5" y="1204.6" width="7" height="11.4" fill="#26a69a"/>
<rect x="1793.7" y="1201.3" width="7" height="14.7" fill="#26a69a"/>
<rect x="1802.8" y="1200.0" width="7" height="16.0" fill="#26a69a"/>
<rect x="1812.0" y="1201.0" width="7" height="15.0" fill="#b2dfdb"/>
<rect x="1821.1" y="1199.8" width="7" height="16.2" fill="#26a69a"/>
<rect x="1830.3" y="1202.0" width="7" height="14.0" fill="#b2dfdb"/>
<rect x="1839.4" y="1195.6" width="7" height="20.4" fill="#26a69a"/>
<rect x="1848.6" y="1191.3" width="7" height="24.7" fill="#26a69a"/>
<rect x="1857.8" y="1193.1" width="7" height="22.9" fill="#b2dfdb"/>
<rect x="1866.9" y="1193.6" width="7" height="22.4" fill="#b2dfdb"/>
<rect x="1876.1" y="1193.3" width="7" height="22.7" fill="#26a69a"/>
<rect x="1885.2" y="1201.2" width="7" height="14.8" fill="#b2dfdb"/>
<rect x="1894.4" y="1203.8" width="7" height="12.2" fill="#b2dfdb"/>
<rect x="1903.5" y="1202.1" width="7" height="13.9" fill="#26a69a"/>
<rect x="1912.7" y="1198.7" width="7" height="17.3" fill="#26a69a"/>
<rect x="1921.9" y="1193.1" width="7" height="22.9" fill="#26a69a"/>
<rect x="1931.0" y="1191.8" width="7" height="24.2" fill="#26a69a"/>
<rect x="1940.2" y="1186.8" width="7" height="29.2" fill="#26a69a"/>
<rect x="1949.3" y="1195.9" width="7" height="20.1" fill="#b2dfdb"/>
<rect x="1958.5" y="1205.0" width="7" height="11.0" fill="#b2dfdb"/>
<rect x="1967.7" y="1202.8" width="7" height="13.2" fill="#26a69a"/>
<rect x="1976.8" y="1203.8" width="7" height="12.2" fill="#b2dfdb"/>
<rect x="1986.0" y="1202.8" width="7" height="13.2" fill="#26a69a"/>
<rect x="1995.1" y="1204.9" width="7" height="11.1" fill="#b2dfdb"/>
<rect x="2004.3" y="1210.2" width="7" height="5.8" fill="#b2dfdb"/>
<rect x="2013.4" y="1214.0" width="7" height="3.9" fill="#ff5252"/>
<rect x="2022.6" y="1214.0" width="7" height="7.1" fill="#ff5252"/>
<rect x="2031.8" y="1214.0" width="7" height="9.5" fill="#ff5252"/>
<rect x="2040.9" y="1214.0" width="7" height="10.7" fill="#ff5252"/>
<rect x="2050.1" y="1214.0" width="7" height="10.2" fill="#ffcdd2"/>
<rect x="2059.2" y="1214.0" width="7" height="7.3" fill="#ffcdd2"/>
<rect x="2068.4" y="1214.0" width="7" height="6.8" fill="#ffcdd2"/>
<rect x="2077.5" y="1214.0" width="7" height="3.6" fill="#ffcdd2"/>
<rect x="2086.7" y="1214.2" width="7" height="1.8" fill="#26a69a"/>
<rect x="2095.9" y="1209.6" width="7" height="6.4" fill="#26a69a"/>
<rect x="2105.0" y="1206.5" width="7" height="9.5" fill="#26a69a"/>
<rect x="2114.2" y="1204.4" width="7" height="11.6" fill="#26a69a"/>
<rect x="2123.3" y="1203.1" width="7" height="12.9" fill="#26a69a"/>
<rect x="2132.5" y="1202.1" width="7" height="13.9" fill="#26a69a"/>
<rect x="2141.7" y="1198.2" width="7" height="17.8" fill="#26a69a"/>
<rect x="2150.8" y="1197.7" width="7" height="18.3" fill="#26a69a"/>
<rect x="2160.0" y="1197.7" width="7" height="18.3" fill="#b2dfdb"/>
<rect x="2169.1" y="1198.1" width="7" height="17.9" fill="#b2dfdb"/>
<rect x="2178.3" y="1203.6" width="7" height="12.4" fill="#b2dfdb"/>
<rect x="2187.4" y="1211.2" width="7" height="4.8" fill="#b2dfdb"/>
<rect x="2196.6" y="1214.0" width="7" height="1.2" fill="#ff5252"/>
<rect x="2205.8" y="1214.0" width="7" height="3.6" fill="#ff5252"/>
<rect x="2214.9" y="1214.0" width="7" height="3.8" fill="#ff5252"/>
<rect x="2224.1" y="1214.0" width="7" height="6.7" fill="#ff5252"/>
<rect x="2233.2" y="1214.0" width="7" height="8.6" fill="#ff5252"/>
<rect x="2242.4" y="1214.0" width="7" height="10.8" fill="#ff5252"/>
<rect x="2251.6" y="1214.0" width="7" height="11.7" fill="#ff5252"/>
<rect x="2260.7" y="1214.0" width="7" height="17.4" fill="#ff5252"/>
<rect x="2269.9" y="1214.0" width="7" height="19.3" fill="#ff5252"/>
<rect x="2279.0" y="1214.0" width="7" height="19.8" fill="#ff5252"/>
<rect x="2288.2" y="1214.0" width="7" height="14.9" fill="#ffcdd2"/>
<rect x="2297.3" y="1214.0" width="7" height="11.9" fill="#ffcdd2"/>
<rect x="2306.5" y="1214.0" width="7" height="7.0" fill="#ffcdd2"/>
<rect x="2315.7" y="1214.0" width="7" height="1.4" fill="#ffcdd2"/>
<rect x="2324.8" y="1213.0" width="7" height="3.0" fill="#26a69a"/>
<rect x="2334.0" y="1211.0" width="7" height="5.0" fill="#26a69a"/>
<rect x="2343.1" y="1212.0" width="7" height="4.0" fill="#b2dfdb"/>
<rect x="2352.3" y="1212.2" width="7" height="3.8" fill="#b2dfdb"/>
<rect x="2361.4" y="1212.2" width="7" height="3.8" fill="#b2dfdb"/>
<rect x="2370.6" y="1211.3" width="7" height="4.7" fill="#26a69a"/>
<rect x="2379.8" y="1208.1" width="7" height="7.9" fill="#26a69a"/>
<rect x="2388.9" y="1204.4" width="7" height="11.6" fill="#26a69a"/>
<rect x="2398.1" y="1203.9" width="7" height="12.1" fill="#26a69a"/>
<rect x="2407.2" y="1200.2" width="7" height="15.8" fill="#26a69a"/>
<rect x="2416.4" y="1197.4" width="7" height="18.6" fill="#26a69a"/>
<rect x="2425.6" y="1194.8" width="7" height="21.2" fill="#26a69a"/>
<rect x="2434.7" y="1193.5" width="7" height="22.5" fill="#26a69a"/>
<rect x="2443.9" y="1193.0" width="7" height="23.0" fill="#26a69a"/>
<rect x="2453.0" y="1196.3" width="7" height="19.7" fill="#b2dfdb"/>
<rect x="2462.2" y="1197.6" width="7" height="18.4" fill="#b2dfdb"/>
<rect x="2471.3" y="1200.5" width="7" height="15.5" fill="#b2dfdb"/>
<rect x="2480.5" y="1203.9" width="7" height="12.1" fill="#b2dfdb"/>
<rect x="2489.7" y="1205.1" width="7" height="10.9" fill="#b2dfdb"/>
<rect x="2498.8" y="1207.2" width="7" height="8.8" fill="#b2dfdb"/>
<rect x="2508.0" y="1211.6" width="7" height="4.4" fill="#b2dfdb"/>
<rect x="2517.1" y="1214.0" width="7" height="1.7" fill="#ff5252"/>
<rect x="2526.3" y="1214.0" width="7" height="5.8" fill="#ff5252"/>
<rect x="2535.4" y="1214.0" width="7" height="10.5" fill="#ff5252"/>
<rect x="2544.6" y="1214.0" width="7" height="12.6" fill="#ff5252"/>
<rect x="2553.8" y="1214.0" width="7" height="5.9" fill="#ffcdd2"/>
<rect x="2562.9" y="1214.5" width="7" height="1.5" fill="#26a69a"/>
<rect x="2572.1" y="1205.9" width="7" height="10.1" fill="#26a69a"/>
<rect x="2581.2" y="1203.0" width="7" height="13.0" fill="#26a69a"/>
<rect x="2590.4" y="1202.1" width="7" height="13.9" fill="#26a69a"/>
<rect x="2599.6" y="1199.4" width="7" height="16.6" fill="#26a69a"/>
<rect x="2608.7" y="1203.1" width="7" height="12.9" fill="#b2dfdb"/>
<rect x="2617.9" y="1210.8" width="7" height="5.2" fill="#b2dfdb"/>
<rect x="2627.0" y="1214.0" width="7" height="2.7" fill="#ff5252"/>
<rect x="2636.2" y="1214.0" width="7" height="8.4" fill="#ff5252"/>
<rect x="2645.3" y="1214.0" width="7" height="10.5" fill="#ff5252"/>
<rect x="2654.5" y="1214.0" width="7" height="11.2" fill="#ff5252"/>
<rect x="2663.7" y="1214.0" width="7" height="11.9" fill="#ff5252"/>
<rect x="2672.8" y="1214.0" width="7" height="10.7" fill="#ffcdd2"/>
<rect x="2682.0" y="1214.0" width="7" height="4.5" fill="#ffcdd2"/>
<rect x="2691.1" y="1214.0" width="7" height="4.7" fill="#ff5252"/>
<rect x="2700.3" y="1214.0" width="7" height="4.7" fill="#ffcdd2"/>
<rect x="2709.5" y="1214.0" width="7" height="5.3" fill="#ff5252"/>
<rect x="2718.6" y="1214.0" width="7" height="5.1" fill="#ffcdd2"/>
<rect x="2727.8" y="1214.0" width="7" height="4.1" fill="#ffcdd2"/>
<rect x="2736.9" y="1214.0" width="7" height="3.1" fill="#ffcdd2"/>
<rect x="2746.1" y="1214.0" width="7" height="5.0" fill="#ff5252"/>
<rect x="2755.2" y="1214.0" width="7" height="10.6" fill="#ff5252"/>
<rect x="2764.4" y="1214.0" width="7" height="13.6" fill="#ff5252"/>
<rect x="2773.6" y="1214.0" width="7" height="14.0" fill="#ff5252"/>
<rect x="2782.7" y="1214.0" width="7" height="12.7" fill="#ffcdd2"/>
<rect x="2791.9" y="1214.0" width="7" height="10.8" fill="#ffcdd2"/>
<rect x="2801.0" y="1214.0" width="7" height="10.4" fill="#ffcdd2"/>
<rect x="2810.2" y="1214.0" width="7" height="13.1" fill="#ff5252"/>
<rect x="2819.3" y="1214.0" width="7" height="12.3" fill="#ffcdd2"/>
<rect x="2828.5" y="1214.0" width="7" height="9.6" fill="#ffcdd2"/>
<rect x="2837.7" y="1214.0" width="7" height="7.8" fill="#ffcdd2"/>
<rect x="2846.8" y="1214.0" width="7" height="3.3" fill="#ffcdd2"/>
<rect x="2856.0" y="1212.1" width="7" height="3.9" fill="#26a69a"/>
<rect x="2865.1" y="1210.3" width="7" height="5.7" fill="#26a69a"/>
<rect x="2874.3" y="1212.7" width="7" height="3.3" fill="#b2dfdb"/>
<rect x="2883.5" y="1214.0" width="7" height="2.2" fill="#ff5252"/>
<rect x="2892.6" y="1214.0" width="7" height="4.5" fill="#ff5252"/>
<rect x="2901.8" y="1214.0" width="7" height="4.7" fill="#ff5252"/>
<rect x="2910.9" y="1214.0" width="7" height="2.9" fill="#ffcdd2"/>
<rect x="2920.1" y="1214.0" width="7" height="4.1" fill="#ff5252"/>
<rect x="2929.2" y="1214.0" width="7" height="4.1" fill="#ffcdd2"/>
<rect x="2938.4" y="1214.0" width="7" height="4.7" fill="#ff5252"/>
<rect x="2947.6" y="1214.0" width="7" height="5.8" fill="#ff5252"/>
<rect x="2956.7" y="1214.0" width="7" height="7.2" fill="#ff5252"/>
<rect x="2965.9" y="1214.0" width="7" height="10.1" fill="#ff5252"/>
<rect x="2975.0" y="1214.0" width="7" height="6.8" fill="#ffcdd2"/>
<rect x="2984.2" y="1211.2" width="7" height="4.8" fill="#26a69a"/>
<rect x="2993.3" y="1205.9" width="7" height="10.1" fill="#26a69a"/>
<rect x="3002.5" y="1202.8" width="7" height="13.2" fill="#26a69a"/>
<rect x="3011.7" y="1201.8" width="7" height="14.2" fill="#26a69a"/>
<rect x="3020.8" y="1201.3" width="7" height="14.7" fill="#26a69a"/>
<rect x="3030.0" y="1200.5" width="7" height="15.5" fill="#26a69a"/>
<rect x="3039.1" y="1201.3" width="7" height="14.7" fill="#b2dfdb"/>
<rect x="3048.3" y="1207.0" width="7" height="9.0" fill="#b2dfdb"/>
<rect x="3057.5" y="1208.0" width="7" height="8.0" fill="#b2dfdb"/>
<rect x="3066.6" y="1208.8" width="7" height="7.2" fill="#b2dfdb"/>
<rect x="3075.8" y="1213.4" width="7" height="2.6" fill="#b2dfdb"/>
<rect x="3084.9" y="1214.0" width="7" height="2.0" fill="#ff5252"/>
<rect x="3094.1" y="1214.0" width="7" height="3.0" fill="#ff5252"/>
<line x1="20" y1="1215" x2="3418" y2="1215" stroke="#787b86" stroke-opacity="0.55" stroke-width="2" stroke-dasharray="10 12"/>
<polyline points="20.5,1235.6 29.7,1243.9 38.8,1252.1 48.0,1260.0 57.1,1265.3 66.3,1268.5 75.4,1268.8 84.6,1268.6 93.8,1266.0 102.9,1261.0 112.1,1254.9 121.2,1249.6 130.4,1245.9 139.6,1243.6 148.7,1242.2 157.9,1240.8 167.0,1239.3 176.2,1236.9 185.3,1233.7 194.5,1228.4 203.7,1222.0 212.8,1214.7 222.0,1208.1 231.1,1202.9 240.3,1198.9 249.4,1196.0 258.6,1194.0 267.8,1193.5 276.9,1194.8 286.1,1196.7 295.2,1199.5 304.4,1202.7 313.6,1207.1 322.7,1212.2 331.9,1217.1 341.0,1221.0 350.2,1223.4 359.3,1224.7 368.5,1225.8 377.7,1226.5 386.8,1226.5 396.0,1226.7 405.1,1227.5 414.3,1229.0 423.5,1230.3 432.6,1230.5 441.8,1228.5 450.9,1223.7 460.1,1214.9 469.2,1204.8 478.4,1194.5 487.6,1184.1 496.7,1174.7 505.9,1166.3 515.0,1157.8 524.2,1151.2 533.3,1146.0 542.5,1143.4 551.7,1143.1 560.8,1143.7 570.0,1142.8 579.1,1139.9 588.3,1137.2 597.5,1134.9 606.6,1133.0 615.8,1130.0 624.9,1128.8 634.1,1130.2 643.2,1132.1 652.4,1130.7 661.6,1126.7 670.7,1121.6 679.9,1115.4 689.0,1110.4 698.2,1106.8 707.3,1104.3 716.5,1103.7 725.7,1103.8 734.8,1104.4 744.0,1104.6 753.1,1106.1 762.3,1108.0 771.5,1113.5 780.6,1120.4 789.8,1128.2 798.9,1136.3 808.1,1142.1 817.2,1146.9 826.4,1153.1 835.6,1160.3 844.7,1168.6 853.9,1178.6 863.0,1189.5 872.2,1199.4 881.4,1205.2 890.5,1207.4 899.7,1207.5 908.8,1204.5 918.0,1198.3 927.1,1182.9 936.3,1166.2 945.5,1151.5 954.6,1140.2 963.8,1130.2 972.9,1120.5 982.1,1113.1 991.2,1107.0 1000.4,1103.0 1009.6,1100.9 1018.7,1099.5 1027.9,1097.8 1037.0,1095.6 1046.2,1094.0 1055.4,1095.0 1064.5,1097.6 1073.7,1099.2 1082.8,1100.3 1092.0,1099.7 1101.1,1098.3 1110.3,1096.3 1119.5,1093.7 1128.6,1088.9 1137.8,1084.4 1146.9,1081.8 1156.1,1078.2 1165.2,1074.6 1174.4,1071.8 1183.6,1076.9 1192.7,1087.9 1201.9,1098.9 1211.0,1107.4 1220.2,1112.7 1229.4,1118.2 1238.5,1123.0 1247.7,1126.6 1256.8,1132.1 1266.0,1141.9 1275.1,1155.1 1284.3,1171.3 1293.5,1192.4 1302.6,1216.2 1311.8,1239.2 1320.9,1260.2 1330.1,1279.3 1339.3,1298.3 1348.4,1316.1 1357.6,1330.7 1366.7,1343.3 1375.9,1353.5 1385.0,1361.9 1394.2,1367.5 1403.4,1369.9 1412.5,1368.6 1421.7,1364.0 1430.8,1357.0 1440.0,1348.4 1449.1,1340.2 1458.3,1334.3 1467.5,1330.8 1476.6,1327.4 1485.8,1323.9 1494.9,1321.3 1504.1,1320.1 1513.3,1318.0 1522.4,1314.0 1531.6,1309.5 1540.7,1303.2 1549.9,1297.2 1559.0,1293.6 1568.2,1291.6 1577.4,1289.9 1586.5,1288.9 1595.7,1288.8 1604.8,1289.3 1614.0,1290.4 1623.1,1292.4 1632.3,1295.1 1641.5,1299.1 1650.6,1303.0 1659.8,1305.2 1668.9,1306.1 1678.1,1308.0 1687.3,1312.8 1696.4,1317.8 1705.6,1323.6 1714.7,1329.8 1723.9,1336.2 1733.0,1342.2 1742.2,1347.0 1751.4,1350.2 1760.5,1351.3 1769.7,1351.5 1778.8,1350.0 1788.0,1347.4 1797.2,1344.0 1806.3,1340.2 1815.5,1336.7 1824.6,1332.8 1833.8,1329.6 1842.9,1324.7 1852.1,1318.8 1861.3,1313.3 1870.4,1307.9 1879.6,1302.4 1888.7,1299.0 1897.9,1296.1 1907.0,1292.9 1916.2,1288.8 1925.4,1283.3 1934.5,1277.4 1943.7,1270.4 1952.8,1265.6 1962.0,1263.0 1971.2,1260.0 1980.3,1257.1 1989.5,1254.1 1998.6,1251.5 2007.8,1250.3 2016.9,1251.0 2026.1,1252.5 2035.3,1254.6 2044.4,1257.0 2053.6,1259.3 2062.7,1260.9 2071.9,1262.3 2081.0,1262.9 2090.2,1262.7 2099.4,1261.3 2108.5,1259.1 2117.7,1256.5 2126.8,1253.5 2136.0,1250.2 2145.2,1246.0 2154.3,1241.6 2163.5,1237.3 2172.6,1233.0 2181.8,1230.2 2190.9,1229.2 2200.1,1229.2 2209.3,1229.8 2218.4,1230.5 2227.6,1231.9 2236.7,1233.8 2245.9,1236.2 2255.1,1238.9 2264.2,1243.0 2273.4,1247.5 2282.5,1252.2 2291.7,1255.6 2300.8,1258.3 2310.0,1259.8 2319.2,1259.9 2328.3,1259.4 2337.5,1258.3 2346.6,1257.6 2355.8,1256.8 2364.9,1256.1 2374.1,1255.2 2383.3,1253.4 2392.4,1250.7 2401.6,1247.9 2410.7,1244.2 2419.9,1239.8 2429.1,1234.7 2438.2,1229.3 2447.4,1223.8 2456.5,1219.1 2465.7,1214.7 2474.8,1211.0 2484.0,1208.2 2493.2,1205.7 2502.3,1203.8 2511.5,1202.9 2520.6,1203.0 2529.8,1204.2 2538.9,1206.6 2548.1,1209.4 2557.3,1210.6 2566.4,1210.5 2575.6,1208.2 2584.7,1205.1 2593.9,1201.9 2603.1,1198.0 2612.2,1195.0 2621.4,1193.9 2630.5,1194.3 2639.7,1196.1 2648.8,1198.5 2658.0,1201.0 2667.2,1203.7 2676.3,1206.1 2685.5,1207.0 2694.6,1207.9 2703.8,1208.8 2713.0,1209.8 2722.1,1210.8 2731.3,1211.6 2740.4,1212.1 2749.6,1213.1 2758.7,1215.5 2767.9,1218.6 2777.1,1221.8 2786.2,1224.7 2795.4,1227.1 2804.5,1229.4 2813.7,1232.4 2822.8,1235.2 2832.0,1237.4 2841.2,1239.0 2850.3,1239.6 2859.5,1238.8 2868.6,1237.6 2877.8,1237.0 2887.0,1237.3 2896.1,1238.2 2905.3,1239.1 2914.4,1239.5 2923.6,1240.3 2932.7,1241.0 2941.9,1241.9 2951.1,1243.1 2960.2,1244.6 2969.4,1246.9 2978.5,1248.3 2987.7,1247.4 2996.8,1245.1 3006.0,1242.0 3015.2,1238.7 3024.3,1235.2 3033.5,1231.6 3042.6,1228.1 3051.8,1226.1 3061.0,1224.3 3070.1,1222.8 3079.3,1222.3 3088.4,1222.5 3097.6,1223.0" fill="none" stroke="#ff6d00" stroke-width="2" stroke-linejoin="round" stroke-linecap="round"/>
<polyline points="20.5,1262.9 29.7,1277.0 38.8,1285.2 48.0,1291.5 57.1,1286.3 66.3,1281.4 75.4,1269.9 84.6,1267.7 93.8,1255.8 102.9,1240.9 112.1,1230.6 121.2,1228.6 130.4,1231.0 139.6,1234.2 148.7,1236.9 157.9,1235.1 167.0,1233.1 176.2,1227.4 185.3,1220.8 194.5,1207.4 203.7,1196.4 212.8,1185.4 222.0,1181.8 231.1,1181.7 240.3,1183.3 249.4,1184.2 258.6,1186.3 267.8,1191.3 276.9,1199.9 286.1,1204.2 295.2,1210.7 304.4,1215.8 313.6,1224.8 322.7,1232.7 331.9,1236.5 341.0,1236.6 350.2,1232.9 359.3,1229.8 368.5,1230.3 377.7,1229.2 386.8,1226.4 396.0,1227.5 405.1,1230.7 414.3,1235.0 423.5,1235.4 432.6,1231.5 441.8,1220.3 450.9,1204.6 460.1,1179.8 469.2,1164.6 478.4,1153.2 487.6,1142.6 496.7,1137.1 505.9,1132.4 515.0,1124.1 524.2,1124.5 533.3,1125.5 542.5,1132.9 551.7,1141.7 560.8,1146.0 570.0,1139.4 579.1,1128.0 588.3,1126.6 597.5,1125.6 606.6,1125.5 615.8,1117.9 624.9,1124.0 634.1,1135.8 643.2,1140.0 652.4,1124.8 661.6,1110.9 670.7,1101.1 679.9,1090.7 689.0,1090.2 698.2,1092.3 707.3,1094.3 716.5,1101.3 725.7,1104.5 734.8,1106.6 744.0,1105.4 753.1,1112.2 762.3,1115.3 771.5,1135.8 780.6,1147.8 789.8,1159.5 798.9,1168.8 808.1,1165.3 817.2,1166.3 826.4,1177.6 835.6,1189.0 844.7,1202.1 853.9,1218.6 863.0,1233.2 872.2,1239.0 881.4,1228.3 890.5,1216.2 899.7,1208.0 908.8,1192.5 918.0,1173.6 927.1,1121.0 936.3,1099.5 945.5,1092.5 954.6,1095.3 963.8,1090.0 972.9,1081.5 982.1,1083.5 991.2,1082.8 1000.4,1087.0 1009.6,1092.4 1018.7,1094.0 1027.9,1091.1 1037.0,1086.5 1046.2,1087.5 1055.4,1099.4 1064.5,1107.6 1073.7,1105.9 1082.8,1104.5 1092.0,1097.6 1101.1,1092.3 1110.3,1088.5 1119.5,1083.2 1128.6,1069.9 1137.8,1066.0 1146.9,1071.7 1156.1,1063.5 1165.2,1060.2 1174.4,1060.7 1183.6,1097.5 1192.7,1131.8 1201.9,1142.7 1211.0,1141.3 1220.2,1134.1 1229.4,1140.0 1238.5,1142.3 1247.7,1140.9 1256.8,1154.4 1266.0,1180.7 1275.1,1207.9 1284.3,1236.4 1293.5,1276.6 1302.6,1311.5 1311.8,1331.3 1320.9,1343.9 1330.1,1356.0 1339.3,1374.1 1348.4,1387.2 1357.6,1389.4 1366.7,1393.5 1375.9,1394.3 1385.0,1395.5 1394.2,1389.8 1403.4,1379.8 1412.5,1363.1 1421.7,1345.7 1430.8,1329.2 1440.0,1313.8 1449.1,1307.6 1458.3,1310.5 1467.5,1316.7 1476.6,1313.7 1485.8,1310.3 1494.9,1310.8 1504.1,1315.1 1513.3,1309.7 1522.4,1298.3 1531.6,1291.4 1540.7,1278.0 1549.9,1273.0 1559.0,1279.6 1568.2,1283.5 1577.4,1283.0 1586.5,1285.2 1595.7,1288.1 1604.8,1291.5 1614.0,1294.8 1623.1,1300.3 1632.3,1306.2 1641.5,1315.2 1650.6,1318.3 1659.8,1313.9 1668.9,1309.7 1678.1,1315.9 1687.3,1331.6 1696.4,1337.8 1705.6,1347.0 1714.7,1354.3 1723.9,1362.0 1733.0,1366.2 1742.2,1365.9 1751.4,1363.2 1760.5,1355.6 1769.7,1352.3 1778.8,1344.3 1788.0,1336.9 1797.2,1330.2 1806.3,1325.1 1815.5,1322.5 1824.6,1317.5 1833.8,1316.5 1842.9,1305.3 1852.1,1295.0 1861.3,1291.2 1870.4,1286.4 1879.6,1280.6 1888.7,1285.1 1897.9,1284.8 1907.0,1279.9 1916.2,1272.3 1925.4,1261.3 1934.5,1254.1 1943.7,1242.0 1952.8,1246.3 1962.0,1253.0 1971.2,1247.7 1980.3,1245.8 1989.5,1241.8 1998.6,1241.3 2007.8,1245.4 2016.9,1253.8 2026.1,1258.5 2035.3,1263.1 2044.4,1266.7 2053.6,1268.4 2062.7,1267.1 2071.9,1268.0 2081.0,1265.4 2090.2,1261.7 2099.4,1255.8 2108.5,1250.5 2117.7,1245.8 2126.8,1241.5 2136.0,1237.2 2145.2,1229.1 2154.3,1224.2 2163.5,1219.9 2172.6,1216.1 2181.8,1218.6 2190.9,1225.2 2200.1,1229.3 2209.3,1232.3 2218.4,1233.2 2227.6,1237.5 2236.7,1241.3 2245.9,1246.0 2255.1,1249.5 2264.2,1259.3 2273.4,1265.7 2282.5,1270.9 2291.7,1269.4 2300.8,1269.1 2310.0,1265.7 2319.2,1260.2 2328.3,1257.3 2337.5,1254.2 2346.6,1254.4 2355.8,1253.9 2364.9,1253.2 2374.1,1251.3 2383.3,1246.4 2392.4,1240.0 2401.6,1236.7 2410.7,1229.3 2419.9,1222.1 2429.1,1214.4 2438.2,1207.7 2447.4,1201.6 2456.5,1200.2 2465.7,1197.2 2474.8,1196.4 2484.0,1197.0 2493.2,1195.7 2502.3,1195.8 2511.5,1199.4 2520.6,1203.6 2529.8,1208.9 2538.9,1215.9 2548.1,1221.0 2557.3,1215.4 2566.4,1209.9 2575.6,1199.0 2584.7,1193.0 2593.9,1188.9 2603.1,1182.3 2612.2,1183.0 2621.4,1189.6 2630.5,1195.9 2639.7,1203.5 2648.8,1207.9 2658.0,1211.1 2667.2,1214.6 2676.3,1215.7 2685.5,1210.4 2694.6,1211.5 2703.8,1212.3 2713.0,1214.1 2722.1,1214.8 2731.3,1214.6 2740.4,1214.1 2749.6,1217.0 2758.7,1225.0 2767.9,1231.1 2777.1,1234.7 2786.2,1236.3 2795.4,1236.8 2804.5,1238.7 2813.7,1244.4 2822.8,1246.4 2832.0,1245.8 2841.2,1245.7 2850.3,1241.8 2859.5,1235.9 2868.6,1232.8 2877.8,1234.6 2887.0,1238.4 2896.1,1241.6 2905.3,1242.7 2914.4,1241.4 2923.6,1243.3 2932.7,1244.0 2941.9,1245.6 2951.1,1247.8 2960.2,1250.7 2969.4,1255.9 2978.5,1254.0 2987.7,1243.5 2996.8,1235.9 3006.0,1229.7 3015.2,1225.3 3024.3,1221.4 3033.5,1217.0 3042.6,1214.3 3051.8,1218.0 3061.0,1217.2 3070.1,1216.5 3079.3,1220.6 3088.4,1223.5 3097.6,1225.0" fill="none" stroke="#2962ff" stroke-width="2" stroke-linejoin="round" stroke-linecap="round"/>
</g>
<text x="35.46" y="1057.80" font-size="25" fill="#131722" textLength="237.48" lengthAdjust="spacingAndGlyphs">MACD (12, 26, close)</text>
<text x="287.60" y="1057.80" font-size="25" fill="#ff5252" textLength="61.59" lengthAdjust="spacingAndGlyphs">−0.01</text>
<text x="362.73" y="1057.80" font-size="25" fill="#2962ff" textLength="65.41" lengthAdjust="spacingAndGlyphs">−0.06</text>
<text x="441.72" y="1057.80" font-size="25" fill="#ff6d00" textLength="65.57" lengthAdjust="spacingAndGlyphs">−0.05</text>
<text x="3441.80" y="1055.50" font-size="32.5" fill="#131722" textLength="68.88" lengthAdjust="spacingAndGlyphs">1.00</text>
<text x="3443.15" y="1140.80" font-size="32.5" fill="#131722" textLength="67.51" lengthAdjust="spacingAndGlyphs">0.50</text>
<text x="3443.15" y="1226.10" font-size="32.5" fill="#131722" textLength="67.51" lengthAdjust="spacingAndGlyphs">0.00</text>
<text x="3442.80" y="1311.40" font-size="32.5" fill="#131722" textLength="87.45" lengthAdjust="spacingAndGlyphs">−0.50</text>
<text x="3442.80" y="1396.70" font-size="32.5" fill="#131722" textLength="87.45" lengthAdjust="spacingAndGlyphs">−1.00</text>
<clipPath id="cr"><rect x="20" y="1433" width="3400" height="484"/></clipPath>
<g clip-path="url(#cr)">
<line x1="20" y1="1519.0" x2="3418" y2="1519.0" stroke="#787b86" stroke-width="2" stroke-dasharray="10 12"/>
<line x1="20" y1="1650.0" x2="3418" y2="1650.0" stroke="#b2b5be" stroke-width="2" stroke-dasharray="10 12"/>
<line x1="20" y1="1781.0" x2="3418" y2="1781.0" stroke="#787b86" stroke-width="2" stroke-dasharray="10 12"/>
<clipPath id="ob"><rect x="20" y="1433" width="3400" height="86"/></clipPath><clipPath id="os"><rect x="20" y="1781" width="3400" height="136"/></clipPath>
<polygon clip-path="url(#ob)" points="20.5,1519 20.5,1790.3 29.7,1812.6 38.8,1786.6 48.0,1790.3 57.1,1694.4 66.3,1694.4 75.4,1639.2 84.6,1689.3 93.8,1626.5 102.9,1600.1 112.1,1610.5 121.2,1651.2 130.4,1674.8 139.6,1682.5 148.7,1685.3 157.9,1659.2 167.0,1656.5 176.2,1629.4 185.3,1616.9 194.5,1570.3 203.7,1567.2 212.8,1553.9 222.0,1594.6 231.1,1613.2 240.3,1622.9 249.4,1618.4 258.6,1627.3 267.8,1653.0 276.9,1686.8 286.1,1664.0 295.2,1686.4 304.4,1685.7 313.6,1721.2 322.7,1727.3 331.9,1704.9 341.0,1678.8 350.2,1646.1 359.3,1647.2 368.5,1673.9 377.7,1661.7 386.8,1643.5 396.0,1675.9 405.1,1696.5 414.3,1712.0 423.5,1682.3 432.6,1643.8 441.8,1582.9 450.9,1544.5 460.1,1494.1 469.2,1527.7 478.4,1527.4 487.6,1517.7 496.7,1535.6 505.9,1530.3 515.0,1506.1 524.2,1561.1 533.3,1558.8 542.5,1606.1 551.7,1622.0 560.8,1600.4 570.0,1547.3 579.1,1520.0 588.3,1569.2 597.5,1564.9 606.6,1563.9 615.8,1528.7 624.9,1603.6 634.1,1636.8 643.2,1609.4 652.4,1542.3 661.6,1533.6 670.7,1533.6 679.9,1521.9 689.0,1559.9 698.2,1566.7 707.3,1562.8 716.5,1588.8 725.7,1573.7 734.8,1566.9 744.0,1550.8 753.1,1594.4 762.3,1579.4 771.5,1670.1 780.6,1646.9 789.8,1653.9 798.9,1651.5 808.1,1600.0 817.2,1617.0 826.4,1664.7 835.6,1674.1 844.7,1690.8 853.9,1715.0 863.0,1721.4 872.2,1690.2 881.4,1620.3 890.5,1606.2 899.7,1613.1 908.8,1578.4 918.0,1555.5 927.1,1475.0 936.3,1551.9 945.5,1581.8 954.6,1604.7 963.8,1583.7 972.9,1571.1 982.1,1595.6 991.2,1586.7 1000.4,1598.3 1009.6,1600.9 1018.7,1589.2 1027.9,1573.5 1037.0,1563.5 1046.2,1578.3 1055.4,1620.0 1064.5,1611.9 1073.7,1582.0 1082.8,1577.9 1092.0,1557.1 1101.1,1553.7 1110.3,1550.4 1119.5,1538.9 1128.6,1510.4 1137.8,1538.5 1146.9,1576.9 1156.1,1536.3 1165.2,1543.5 1174.4,1550.4 1183.6,1686.9 1192.7,1698.4 1201.9,1642.8 1211.0,1613.3 1220.2,1595.6 1229.4,1630.3 1238.5,1621.4 1247.7,1610.3 1256.8,1654.6 1266.0,1694.3 1275.1,1709.0 1284.3,1725.3 1293.5,1761.0 1302.6,1768.4 1311.8,1744.2 1320.9,1738.5 1330.1,1746.6 1339.3,1767.8 1348.4,1769.2 1357.6,1742.5 1366.7,1752.9 1375.9,1751.1 1385.0,1757.7 1394.2,1735.1 1403.4,1717.4 1412.5,1685.3 1421.7,1673.7 1430.8,1667.3 1440.0,1662.1 1449.1,1691.4 1458.3,1723.4 1467.5,1739.9 1476.6,1704.7 1485.8,1704.7 1494.9,1720.8 1504.1,1738.7 1513.3,1695.8 1522.4,1665.8 1531.6,1678.7 1540.7,1644.5 1549.9,1671.9 1559.0,1713.8 1568.2,1711.1 1577.4,1696.0 1586.5,1709.3 1595.7,1717.1 1604.8,1725.0 1614.0,1730.7 1623.1,1746.1 1632.3,1755.9 1641.5,1775.7 1650.6,1754.2 1659.8,1714.2 1668.9,1715.9 1678.1,1759.4 1687.3,1795.9 1696.4,1764.8 1705.6,1781.7 1714.7,1786.4 1723.9,1796.5 1733.0,1795.6 1742.2,1780.5 1751.4,1774.3 1760.5,1743.6 1769.7,1761.5 1778.8,1730.8 1788.0,1732.6 1797.2,1735.1 1806.3,1742.3 1815.5,1756.3 1824.6,1738.8 1833.8,1760.1 1842.9,1681.4 1852.1,1678.0 1861.3,1709.1 1870.4,1701.1 1879.6,1691.0 1888.7,1744.8 1897.9,1719.9 1907.0,1689.8 1916.2,1668.7 1925.4,1638.3 1934.5,1652.2 1943.7,1614.4 1952.8,1695.7 1962.0,1712.3 1971.2,1654.2 1980.3,1667.3 1989.5,1654.9 1998.6,1670.7 2007.8,1694.3 2016.9,1719.3 2026.1,1710.0 2035.3,1716.1 2044.4,1719.0 2053.6,1715.2 2062.7,1698.4 2071.9,1713.4 2081.0,1690.5 2090.2,1682.1 2099.4,1661.7 2108.5,1659.5 2117.7,1658.5 2126.8,1656.0 2136.0,1649.7 2145.2,1609.1 2154.3,1625.8 2163.5,1622.3 2172.6,1618.7 2181.8,1677.2 2190.9,1715.2 2200.1,1704.5 2209.3,1703.8 2218.4,1687.7 2227.6,1722.0 2236.7,1726.8 2245.9,1743.4 2255.1,1745.1 2264.2,1795.3 2273.4,1784.2 2282.5,1789.0 2291.7,1720.2 2300.8,1732.6 2310.0,1700.1 2319.2,1675.3 2328.3,1692.2 2337.5,1689.3 2346.6,1717.1 2355.8,1714.4 2364.9,1715.5 2374.1,1702.3 2383.3,1660.0 2392.4,1633.8 2401.6,1658.3 2410.7,1607.1 2419.9,1595.7 2429.1,1577.2 2438.2,1571.0 2447.4,1562.0 2456.5,1609.9 2465.7,1588.8 2474.8,1608.0 2484.0,1621.9 2493.2,1599.7 2502.3,1612.7 2511.5,1657.5 2520.6,1671.8 2529.8,1693.6 2538.9,1723.0 2548.1,1715.7 2557.3,1604.7 2566.4,1593.9 2575.6,1544.7 2584.7,1573.8 2593.9,1577.3 2603.1,1550.5 2612.2,1611.5 2621.4,1662.8 2630.5,1669.2 2639.7,1687.9 2648.8,1672.5 2658.0,1668.7 2667.2,1677.6 2676.3,1660.7 2685.5,1603.1 2694.6,1652.3 2703.8,1652.3 2713.0,1662.0 2722.1,1655.7 2731.3,1647.0 2740.4,1643.4 2749.6,1678.9 2758.7,1728.9 2767.9,1728.3 2777.1,1714.9 2786.2,1702.2 2795.4,1694.6 2804.5,1712.6 2813.7,1752.4 2822.8,1721.6 2832.0,1697.3 2841.2,1704.3 2850.3,1659.3 2859.5,1631.8 2868.6,1652.2 2877.8,1696.8 2887.0,1719.7 2896.1,1723.5 2905.3,1708.7 2914.4,1683.8 2923.6,1715.4 2932.7,1709.2 2941.9,1721.3 2951.1,1734.5 2960.2,1748.5 2969.4,1775.0 2978.5,1696.8 2987.7,1612.2 2996.8,1622.3 3006.0,1621.9 3015.2,1629.4 3024.3,1625.6 3033.5,1612.6 3042.6,1623.0 3051.8,1686.6 3061.0,1647.7 3070.1,1646.1 3079.3,1692.8 3088.4,1689.8 3097.6,1681.6 3097.6,1519" fill="#089981" fill-opacity="0.04"/>
<polygon clip-path="url(#os)" points="20.5,1781 20.5,1790.3 29.7,1812.6 38.8,1786.6 48.0,1790.3 57.1,1694.4 66.3,1694.4 75.4,1639.2 84.6,1689.3 93.8,1626.5 102.9,1600.1 112.1,1610.5 121.2,1651.2 130.4,1674.8 139.6,1682.5 148.7,1685.3 157.9,1659.2 167.0,1656.5 176.2,1629.4 185.3,1616.9 194.5,1570.3 203.7,1567.2 212.8,1553.9 222.0,1594.6 231.1,1613.2 240.3,1622.9 249.4,1618.4 258.6,1627.3 267.8,1653.0 276.9,1686.8 286.1,1664.0 295.2,1686.4 304.4,1685.7 313.6,1721.2 322.7,1727.3 331.9,1704.9 341.0,1678.8 350.2,1646.1 359.3,1647.2 368.5,1673.9 377.7,1661.7 386.8,1643.5 396.0,1675.9 405.1,1696.5 414.3,1712.0 423.5,1682.3 432.6,1643.8 441.8,1582.9 450.9,1544.5 460.1,1494.1 469.2,1527.7 478.4,1527.4 487.6,1517.7 496.7,1535.6 505.9,1530.3 515.0,1506.1 524.2,1561.1 533.3,1558.8 542.5,1606.1 551.7,1622.0 560.8,1600.4 570.0,1547.3 579.1,1520.0 588.3,1569.2 597.5,1564.9 606.6,1563.9 615.8,1528.7 624.9,1603.6 634.1,1636.8 643.2,1609.4 652.4,1542.3 661.6,1533.6 670.7,1533.6 679.9,1521.9 689.0,1559.9 698.2,1566.7 707.3,1562.8 716.5,1588.8 725.7,1573.7 734.8,1566.9 744.0,1550.8 753.1,1594.4 762.3,1579.4 771.5,1670.1 780.6,1646.9 789.8,1653.9 798.9,1651.5 808.1,1600.0 817.2,1617.0 826.4,1664.7 835.6,1674.1 844.7,1690.8 853.9,1715.0 863.0,1721.4 872.2,1690.2 881.4,1620.3 890.5,1606.2 899.7,1613.1 908.8,1578.4 918.0,1555.5 927.1,1475.0 936.3,1551.9 945.5,1581.8 954.6,1604.7 963.8,1583.7 972.9,1571.1 982.1,1595.6 991.2,1586.7 1000.4,1598.3 1009.6,1600.9 1018.7,1589.2 1027.9,1573.5 1037.0,1563.5 1046.2,1578.3 1055.4,1620.0 1064.5,1611.9 1073.7,1582.0 1082.8,1577.9 1092.0,1557.1 1101.1,1553.7 1110.3,1550.4 1119.5,1538.9 1128.6,1510.4 1137.8,1538.5 1146.9,1576.9 1156.1,1536.3 1165.2,1543.5 1174.4,1550.4 1183.6,1686.9 1192.7,1698.4 1201.9,1642.8 1211.0,1613.3 1220.2,1595.6 1229.4,1630.3 1238.5,1621.4 1247.7,1610.3 1256.8,1654.6 1266.0,1694.3 1275.1,1709.0 1284.3,1725.3 1293.5,1761.0 1302.6,1768.4 1311.8,1744.2 1320.9,1738.5 1330.1,1746.6 1339.3,1767.8 1348.4,1769.2 1357.6,1742.5 1366.7,1752.9 1375.9,1751.1 1385.0,1757.7 1394.2,1735.1 1403.4,1717.4 1412.5,1685.3 1421.7,1673.7 1430.8,1667.3 1440.0,1662.1 1449.1,1691.4 1458.3,1723.4 1467.5,1739.9 1476.6,1704.7 1485.8,1704.7 1494.9,1720.8 1504.1,1738.7 1513.3,1695.8 1522.4,1665.8 1531.6,1678.7 1540.7,1644.5 1549.9,1671.9 1559.0,1713.8 1568.2,1711.1 1577.4,1696.0 1586.5,1709.3 1595.7,1717.1 1604.8,1725.0 1614.0,1730.7 1623.1,1746.1 1632.3,1755.9 1641.5,1775.7 1650.6,1754.2 1659.8,1714.2 1668.9,1715.9 1678.1,1759.4 1687.3,1795.9 1696.4,1764.8 1705.6,1781.7 1714.7,1786.4 1723.9,1796.5 1733.0,1795.6 1742.2,1780.5 1751.4,1774.3 1760.5,1743.6 1769.7,1761.5 1778.8,1730.8 1788.0,1732.6 1797.2,1735.1 1806.3,1742.3 1815.5,1756.3 1824.6,1738.8 1833.8,1760.1 1842.9,1681.4 1852.1,1678.0 1861.3,1709.1 1870.4,1701.1 1879.6,1691.0 1888.7,1744.8 1897.9,1719.9 1907.0,1689.8 1916.2,1668.7 1925.4,1638.3 1934.5,1652.2 1943.7,1614.4 1952.8,1695.7 1962.0,1712.3 1971.2,1654.2 1980.3,1667.3 1989.5,1654.9 1998.6,1670.7 2007.8,1694.3 2016.9,1719.3 2026.1,1710.0 2035.3,1716.1 2044.4,1719.0 2053.6,1715.2 2062.7,1698.4 2071.9,1713.4 2081.0,1690.5 2090.2,1682.1 2099.4,1661.7 2108.5,1659.5 2117.7,1658.5 2126.8,1656.0 2136.0,1649.7 2145.2,1609.1 2154.3,1625.8 2163.5,1622.3 2172.6,1618.7 2181.8,1677.2 2190.9,1715.2 2200.1,1704.5 2209.3,1703.8 2218.4,1687.7 2227.6,1722.0 2236.7,1726.8 2245.9,1743.4 2255.1,1745.1 2264.2,1795.3 2273.4,1784.2 2282.5,1789.0 2291.7,1720.2 2300.8,1732.6 2310.0,1700.1 2319.2,1675.3 2328.3,1692.2 2337.5,1689.3 2346.6,1717.1 2355.8,1714.4 2364.9,1715.5 2374.1,1702.3 2383.3,1660.0 2392.4,1633.8 2401.6,1658.3 2410.7,1607.1 2419.9,1595.7 2429.1,1577.2 2438.2,1571.0 2447.4,1562.0 2456.5,1609.9 2465.7,1588.8 2474.8,1608.0 2484.0,1621.9 2493.2,1599.7 2502.3,1612.7 2511.5,1657.5 2520.6,1671.8 2529.8,1693.6 2538.9,1723.0 2548.1,1715.7 2557.3,1604.7 2566.4,1593.9 2575.6,1544.7 2584.7,1573.8 2593.9,1577.3 2603.1,1550.5 2612.2,1611.5 2621.4,1662.8 2630.5,1669.2 2639.7,1687.9 2648.8,1672.5 2658.0,1668.7 2667.2,1677.6 2676.3,1660.7 2685.5,1603.1 2694.6,1652.3 2703.8,1652.3 2713.0,1662.0 2722.1,1655.7 2731.3,1647.0 2740.4,1643.4 2749.6,1678.9 2758.7,1728.9 2767.9,1728.3 2777.1,1714.9 2786.2,1702.2 2795.4,1694.6 2804.5,1712.6 2813.7,1752.4 2822.8,1721.6 2832.0,1697.3 2841.2,1704.3 2850.3,1659.3 2859.5,1631.8 2868.6,1652.2 2877.8,1696.8 2887.0,1719.7 2896.1,1723.5 2905.3,1708.7 2914.4,1683.8 2923.6,1715.4 2932.7,1709.2 2941.9,1721.3 2951.1,1734.5 2960.2,1748.5 2969.4,1775.0 2978.5,1696.8 2987.7,1612.2 2996.8,1622.3 3006.0,1621.9 3015.2,1629.4 3024.3,1625.6 3033.5,1612.6 3042.6,1623.0 3051.8,1686.6 3061.0,1647.7 3070.1,1646.1 3079.3,1692.8 3088.4,1689.8 3097.6,1681.6 3097.6,1781" fill="#f23645" fill-opacity="0.04"/>
<polyline points="20.5,1790.3 29.7,1812.6 38.8,1786.6 48.0,1790.3 57.1,1694.4 66.3,1694.4 75.4,1639.2 84.6,1689.3 93.8,1626.5 102.9,1600.1 112.1,1610.5 121.2,1651.2 130.4,1674.8 139.6,1682.5 148.7,1685.3 157.9,1659.2 167.0,1656.5 176.2,1629.4 185.3,1616.9 194.5,1570.3 203.7,1567.2 212.8,1553.9 222.0,1594.6 231.1,1613.2 240.3,1622.9 249.4,1618.4 258.6,1627.3 267.8,1653.0 276.9,1686.8 286.1,1664.0 295.2,1686.4 304.4,1685.7 313.6,1721.2 322.7,1727.3 331.9,1704.9 341.0,1678.8 350.2,1646.1 359.3,1647.2 368.5,1673.9 377.7,1661.7 386.8,1643.5 396.0,1675.9 405.1,1696.5 414.3,1712.0 423.5,1682.3 432.6,1643.8 441.8,1582.9 450.9,1544.5 460.1,1494.1 469.2,1527.7 478.4,1527.4 487.6,1517.7 496.7,1535.6 505.9,1530.3 515.0,1506.1 524.2,1561.1 533.3,1558.8 542.5,1606.1 551.7,1622.0 560.8,1600.4 570.0,1547.3 579.1,1520.0 588.3,1569.2 597.5,1564.9 606.6,1563.9 615.8,1528.7 624.9,1603.6 634.1,1636.8 643.2,1609.4 652.4,1542.3 661.6,1533.6 670.7,1533.6 679.9,1521.9 689.0,1559.9 698.2,1566.7 707.3,1562.8 716.5,1588.8 725.7,1573.7 734.8,1566.9 744.0,1550.8 753.1,1594.4 762.3,1579.4 771.5,1670.1 780.6,1646.9 789.8,1653.9 798.9,1651.5 808.1,1600.0 817.2,1617.0 826.4,1664.7 835.6,1674.1 844.7,1690.8 853.9,1715.0 863.0,1721.4 872.2,1690.2 881.4,1620.3 890.5,1606.2 899.7,1613.1 908.8,1578.4 918.0,1555.5 927.1,1475.0 936.3,1551.9 945.5,1581.8 954.6,1604.7 963.8,1583.7 972.9,1571.1 982.1,1595.6 991.2,1586.7 1000.4,1598.3 1009.6,1600.9 1018.7,1589.2 1027.9,1573.5 1037.0,1563.5 1046.2,1578.3 1055.4,1620.0 1064.5,1611.9 1073.7,1582.0 1082.8,1577.9 1092.0,1557.1 1101.1,1553.7 1110.3,1550.4 1119.5,1538.9 1128.6,1510.4 1137.8,1538.5 1146.9,1576.9 1156.1,1536.3 1165.2,1543.5 1174.4,1550.4 1183.6,1686.9 1192.7,1698.4 1201.9,1642.8 1211.0,1613.3 1220.2,1595.6 1229.4,1630.3 1238.5,1621.4 1247.7,1610.3 1256.8,1654.6 1266.0,1694.3 1275.1,1709.0 1284.3,1725.3 1293.5,1761.0 1302.6,1768.4 1311.8,1744.2 1320.9,1738.5 1330.1,1746.6 1339.3,1767.8 1348.4,1769.2 1357.6,1742.5 1366.7,1752.9 1375.9,1751.1 1385.0,1757.7 1394.2,1735.1 1403.4,1717.4 1412.5,1685.3 1421.7,1673.7 1430.8,1667.3 1440.0,1662.1 1449.1,1691.4 1458.3,1723.4 1467.5,1739.9 1476.6,1704.7 1485.8,1704.7 1494.9,1720.8 1504.1,1738.7 1513.3,1695.8 1522.4,1665.8 1531.6,1678.7 1540.7,1644.5 1549.9,1671.9 1559.0,1713.8 1568.2,1711.1 1577.4,1696.0 1586.5,1709.3 1595.7,1717.1 1604.8,1725.0 1614.0,1730.7 1623.1,1746.1 1632.3,1755.9 1641.5,1775.7 1650.6,1754.2 1659.8,1714.2 1668.9,1715.9 1678.1,1759.4 1687.3,1795.9 1696.4,1764.8 1705.6,1781.7 1714.7,1786.4 1723.9,1796.5 1733.0,1795.6 1742.2,1780.5 1751.4,1774.3 1760.5,1743.6 1769.7,1761.5 1778.8,1730.8 1788.0,1732.6 1797.2,1735.1 1806.3,1742.3 1815.5,1756.3 1824.6,1738.8 1833.8,1760.1 1842.9,1681.4 1852.1,1678.0 1861.3,1709.1 1870.4,1701.1 1879.6,1691.0 1888.7,1744.8 1897.9,1719.9 1907.0,1689.8 1916.2,1668.7 1925.4,1638.3 1934.5,1652.2 1943.7,1614.4 1952.8,1695.7 1962.0,1712.3 1971.2,1654.2 1980.3,1667.3 1989.5,1654.9 1998.6,1670.7 2007.8,1694.3 2016.9,1719.3 2026.1,1710.0 2035.3,1716.1 2044.4,1719.0 2053.6,1715.2 2062.7,1698.4 2071.9,1713.4 2081.0,1690.5 2090.2,1682.1 2099.4,1661.7 2108.5,1659.5 2117.7,1658.5 2126.8,1656.0 2136.0,1649.7 2145.2,1609.1 2154.3,1625.8 2163.5,1622.3 2172.6,1618.7 2181.8,1677.2 2190.9,1715.2 2200.1,1704.5 2209.3,1703.8 2218.4,1687.7 2227.6,1722.0 2236.7,1726.8 2245.9,1743.4 2255.1,1745.1 2264.2,1795.3 2273.4,1784.2 2282.5,1789.0 2291.7,1720.2 2300.8,1732.6 2310.0,1700.1 2319.2,1675.3 2328.3,1692.2 2337.5,1689.3 2346.6,1717.1 2355.8,1714.4 2364.9,1715.5 2374.1,1702.3 2383.3,1660.0 2392.4,1633.8 2401.6,1658.3 2410.7,1607.1 2419.9,1595.7 2429.1,1577.2 2438.2,1571.0 2447.4,1562.0 2456.5,1609.9 2465.7,1588.8 2474.8,1608.0 2484.0,1621.9 2493.2,1599.7 2502.3,1612.7 2511.5,1657.5 2520.6,1671.8 2529.8,1693.6 2538.9,1723.0 2548.1,1715.7 2557.3,1604.7 2566.4,1593.9 2575.6,1544.7 2584.7,1573.8 2593.9,1577.3 2603.1,1550.5 2612.2,1611.5 2621.4,1662.8 2630.5,1669.2 2639.7,1687.9 2648.8,1672.5 2658.0,1668.7 2667.2,1677.6 2676.3,1660.7 2685.5,1603.1 2694.6,1652.3 2703.8,1652.3 2713.0,1662.0 2722.1,1655.7 2731.3,1647.0 2740.4,1643.4 2749.6,1678.9 2758.7,1728.9 2767.9,1728.3 2777.1,1714.9 2786.2,1702.2 2795.4,1694.6 2804.5,1712.6 2813.7,1752.4 2822.8,1721.6 2832.0,1697.3 2841.2,1704.3 2850.3,1659.3 2859.5,1631.8 2868.6,1652.2 2877.8,1696.8 2887.0,1719.7 2896.1,1723.5 2905.3,1708.7 2914.4,1683.8 2923.6,1715.4 2932.7,1709.2 2941.9,1721.3 2951.1,1734.5 2960.2,1748.5 2969.4,1775.0 2978.5,1696.8 2987.7,1612.2 2996.8,1622.3 3006.0,1621.9 3015.2,1629.4 3024.3,1625.6 3033.5,1612.6 3042.6,1623.0 3051.8,1686.6 3061.0,1647.7 3070.1,1646.1 3079.3,1692.8 3088.4,1689.8 3097.6,1681.6" fill="none" stroke="#000000" stroke-width="2" stroke-linejoin="round" stroke-linecap="round"/>
</g>
<text x="34.68" y="1473.20" font-size="25" fill="#131722" textLength="162.54" lengthAdjust="spacingAndGlyphs">RSI (14, close)</text>
<text x="211.83" y="1473.20" font-size="25" fill="#131722" textLength="62.60" lengthAdjust="spacingAndGlyphs">44.91</text>
<text x="3442.98" y="1465.40" font-size="32.5" fill="#131722" textLength="87.28" lengthAdjust="spacingAndGlyphs">80.00</text>
<text x="3442.72" y="1596.40" font-size="32.5" fill="#131722" textLength="87.54" lengthAdjust="spacingAndGlyphs">60.00</text>
<text x="3443.71" y="1727.40" font-size="32.5" fill="#131722" textLength="86.54" lengthAdjust="spacingAndGlyphs">40.00</text>
<text x="248.65" y="1892.00" font-size="31.8" fill="#131722" textLength="57.00" lengthAdjust="spacingAndGlyphs">Sep</text>
<text x="525.15" y="1892.00" font-size="31.8" fill="#131722" textLength="52.24" lengthAdjust="spacingAndGlyphs">Oct</text>
<text x="805.56" y="1892.00" font-size="31.8" fill="#131722" textLength="57.99" lengthAdjust="spacingAndGlyphs">Nov</text>
<text x="1080.65" y="1892.00" font-size="31.8" fill="#131722" textLength="58.04" lengthAdjust="spacingAndGlyphs">Dec</text>
<text x="1352.83" y="1892.00" font-size="31.8" fill="#131722" font-weight="bold" textLength="83.03" lengthAdjust="spacingAndGlyphs">2025</text>
<text x="1650.09" y="1892.00" font-size="31.8" fill="#131722" textLength="55.28" lengthAdjust="spacingAndGlyphs">Feb</text>
<text x="1904.52" y="1892.00" font-size="31.8" fill="#131722" textLength="58.34" lengthAdjust="spacingAndGlyphs">Mar</text>
<text x="2193.48" y="1892.00" font-size="31.8" fill="#131722" textLength="50.91" lengthAdjust="spacingAndGlyphs">Apr</text>
<text x="2460.71" y="1892.00" font-size="31.8" fill="#131722" textLength="62.79" lengthAdjust="spacingAndGlyphs">May</text>
<text x="2751.01" y="1892.00" font-size="31.8" fill="#131722" textLength="54.31" lengthAdjust="spacingAndGlyphs">Jun</text>
<text x="3030.88" y="1892.00" font-size="31.8" fill="#131722" textLength="44.15" lengthAdjust="spacingAndGlyphs">Jul</text>
<text x="3307.66" y="1892.00" font-size="31.8" fill="#131722" textLength="58.69" lengthAdjust="spacingAndGlyphs">Aug</text>
<g fill="#111111"><path d="M20.1,1942.2 H35.3 V1961.4 H27.7 V1949.7 H20.1 Z"/><circle cx="42.1" cy="1946.4" r="4.2"/><path d="M50.2,1942.2 H59 L50.6,1961.4 H42.3 Z"/></g>
<text x="66.40" y="1962.70" font-size="26" fill="#131722" textLength="148.03" lengthAdjust="spacingAndGlyphs">TradingView</text>
</svg></body></html>
